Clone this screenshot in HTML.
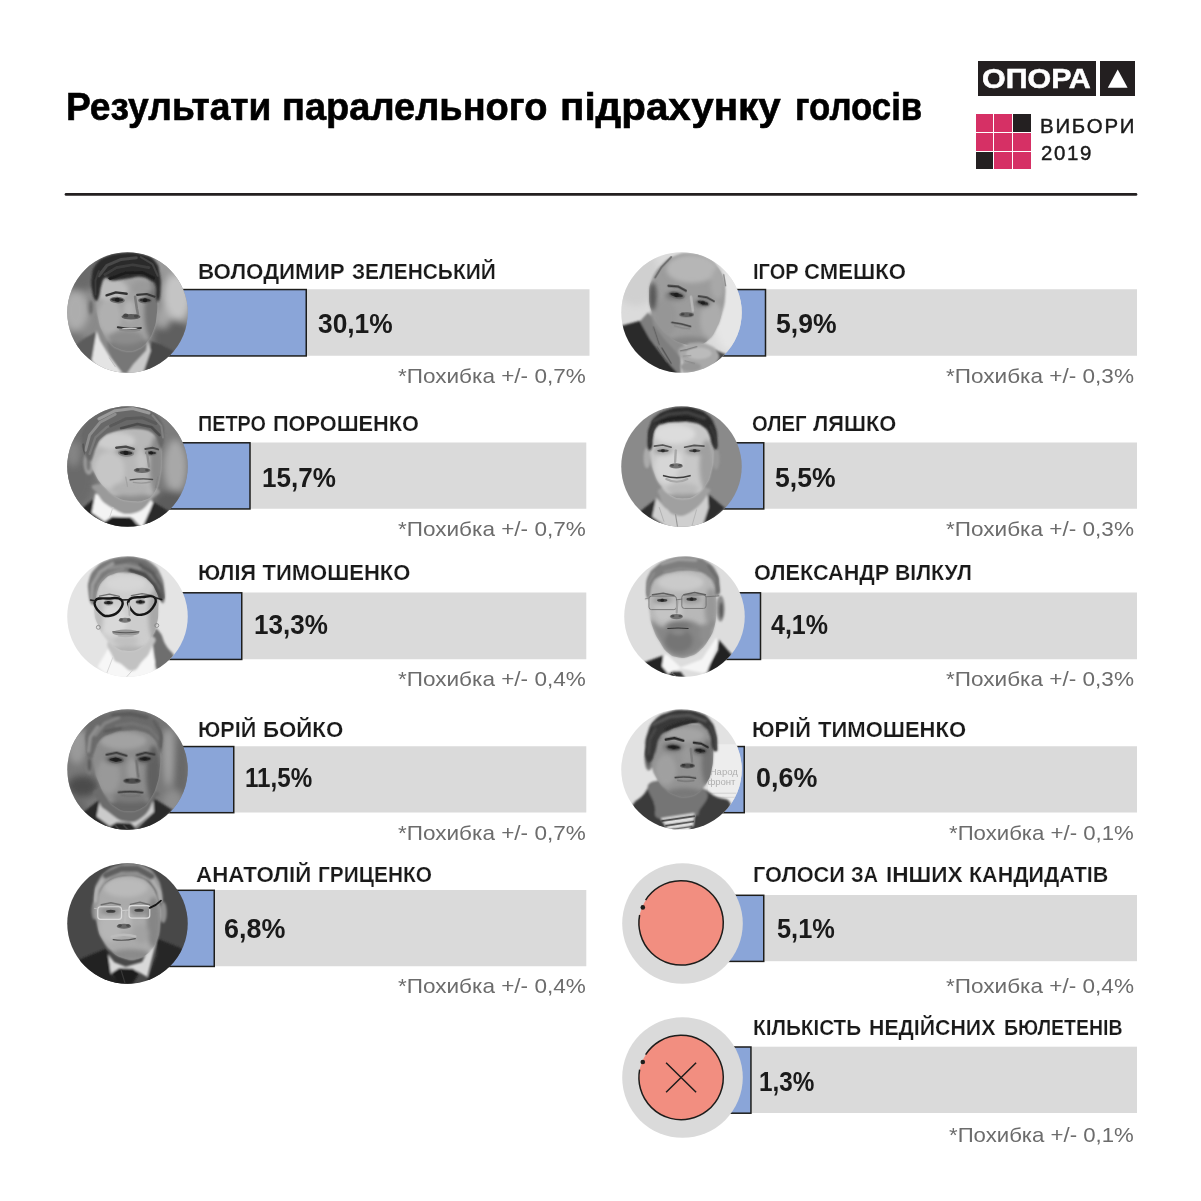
<!DOCTYPE html>
<html lang="uk">
<head>
<meta charset="utf-8">
<title>Результати паралельного підрахунку голосів</title>
<style>
html,body{margin:0;padding:0;background:#fff;}
body{width:1201px;height:1201px;position:relative;overflow:hidden;font-family:"Liberation Sans", sans-serif;}
.t{position:absolute;white-space:nowrap;line-height:1;margin:0;padding:0;transform-origin:0 0;}
.bar{position:absolute;background:#dadada;}
.fill{position:absolute;background:#8aa5d8;border:1.5px solid #1d1d1b;box-sizing:border-box;}
.pic{position:absolute;width:121px;height:121px;}
.pic svg{display:block;width:121px;height:121px;}
</style>
</head>
<body>
<div style="position:absolute;left:978px;top:61px;width:118px;height:35px;background:#231f20;"></div>
<div style="position:absolute;left:1100px;top:61px;width:35px;height:35px;background:#231f20;"></div>
<svg style="position:absolute;left:1100px;top:61px;" width="35" height="35" viewBox="0 0 35 35"><polygon points="17.7,8.6 27.6,26.8 7.8,26.8" fill="#fff"/></svg>
<div style="position:absolute;left:975.6px;top:114.0px;width:17.8px;height:17.8px;background:#d63065;"></div>
<div style="position:absolute;left:994.4px;top:114.0px;width:17.8px;height:17.8px;background:#d63065;"></div>
<div style="position:absolute;left:1013.2px;top:114.0px;width:17.8px;height:17.8px;background:#242021;"></div>
<div style="position:absolute;left:975.6px;top:132.8px;width:17.8px;height:17.8px;background:#d63065;"></div>
<div style="position:absolute;left:994.4px;top:132.8px;width:17.8px;height:17.8px;background:#d63065;"></div>
<div style="position:absolute;left:1013.2px;top:132.8px;width:17.8px;height:17.8px;background:#d63065;"></div>
<div style="position:absolute;left:975.6px;top:151.6px;width:17.8px;height:17.8px;background:#242021;"></div>
<div style="position:absolute;left:994.4px;top:151.6px;width:17.8px;height:17.8px;background:#d63065;"></div>
<div style="position:absolute;left:1013.2px;top:151.6px;width:17.8px;height:17.8px;background:#d63065;"></div>
<svg style="position:absolute;left:0;top:0;" width="1201" height="1201" viewBox="0 0 1201 1201">
<line x1="66" y1="194.4" x2="1136" y2="194.4" stroke="#231f20" stroke-width="2.7" stroke-linecap="round"/>
<rect x="127.00" y="289.25" width="462.50" height="66.50" fill="#dadada"/>
<rect x="127.00" y="289.55" width="179.25" height="66.40" fill="#8aa5d8" stroke="#1d1d1b" stroke-width="1.5"/>
<rect x="127.00" y="442.50" width="459.30" height="66.25" fill="#dadada"/>
<rect x="127.00" y="442.80" width="123.00" height="66.15" fill="#8aa5d8" stroke="#1d1d1b" stroke-width="1.5"/>
<rect x="127.00" y="592.50" width="459.30" height="66.75" fill="#dadada"/>
<rect x="127.00" y="592.80" width="114.75" height="66.65" fill="#8aa5d8" stroke="#1d1d1b" stroke-width="1.5"/>
<rect x="127.00" y="746.25" width="459.30" height="66.25" fill="#dadada"/>
<rect x="127.00" y="746.55" width="106.75" height="66.15" fill="#8aa5d8" stroke="#1d1d1b" stroke-width="1.5"/>
<rect x="127.00" y="890.00" width="459.30" height="76.25" fill="#dadada"/>
<rect x="127.00" y="890.30" width="87.25" height="76.15" fill="#8aa5d8" stroke="#1d1d1b" stroke-width="1.5"/>
<rect x="681.70" y="289.25" width="455.30" height="66.50" fill="#dadada"/>
<rect x="681.70" y="289.55" width="83.80" height="66.40" fill="#8aa5d8" stroke="#1d1d1b" stroke-width="1.5"/>
<rect x="681.70" y="442.50" width="455.30" height="66.25" fill="#dadada"/>
<rect x="681.70" y="442.80" width="82.05" height="66.15" fill="#8aa5d8" stroke="#1d1d1b" stroke-width="1.5"/>
<rect x="684.50" y="592.50" width="452.50" height="66.75" fill="#dadada"/>
<rect x="684.50" y="592.80" width="76.00" height="66.65" fill="#8aa5d8" stroke="#1d1d1b" stroke-width="1.5"/>
<rect x="681.80" y="746.25" width="455.20" height="66.25" fill="#dadada"/>
<rect x="681.80" y="746.55" width="62.45" height="66.15" fill="#8aa5d8" stroke="#1d1d1b" stroke-width="1.5"/>
<rect x="682.20" y="895.00" width="454.80" height="66.20" fill="#dadada"/>
<rect x="682.20" y="895.30" width="81.55" height="66.10" fill="#8aa5d8" stroke="#1d1d1b" stroke-width="1.5"/>
<rect x="682.20" y="1046.70" width="454.80" height="66.30" fill="#dadada"/>
<rect x="682.20" y="1047.00" width="68.75" height="66.20" fill="#8aa5d8" stroke="#1d1d1b" stroke-width="1.5"/>
</svg>
<div class="pic" style="left:66.50px;top:251.70px;"><svg viewBox="56 56 1038 1038"><defs><clipPath id="p1_c"><circle cx="575" cy="575" r="517"/></clipPath><filter id="p1_g" x="-40%" y="-40%" width="180%" height="180%"><feGaussianBlur stdDeviation="30"/></filter><filter id="p1_f" x="-40%" y="-40%" width="180%" height="180%"><feGaussianBlur stdDeviation="10"/></filter><filter id="p1_h" x="-40%" y="-40%" width="180%" height="180%"><feGaussianBlur stdDeviation="4.5"/></filter><filter id="p1_m" x="-40%" y="-40%" width="180%" height="180%"><feGaussianBlur stdDeviation="18"/></filter><clipPath id="p1_face"><path d="M318,300 C351.8,251.2 379.5,290.0 440,285 C500.5,280.0 495.0,283.8 560,280 C625.0,276.2 637.0,258.7 700,270 C763.0,281.3 779.0,275.0 812,325 C845.0,375.0 828.7,401.2 832,470 C835.3,538.8 833.0,537.5 825,600 C817.0,662.5 821.3,662.5 800,720 C778.7,777.5 775.0,787.5 740,830 C705.0,872.5 698.8,871.2 660,890 C621.2,908.8 625.0,906.3 585,905 C545.0,903.7 538.8,901.3 500,885 C461.2,868.7 465.0,876.3 430,840 C395.0,803.7 387.0,795.0 360,740 C333.0,685.0 335.8,685.0 322,620 C308.2,555.0 306.0,560.0 305,480 C304.0,400.0 284.2,348.8 318,300Z"/></clipPath><clipPath id="p1_hair"><path d="M300,470 C285.0,455.0 278.0,430.0 270,380 C262.0,330.0 260.5,322.5 268,270 C275.5,217.5 269.5,213.8 300,170 C330.5,126.2 330.0,122.0 390,95 C450.0,68.0 462.5,67.0 540,62 C617.5,57.0 632.0,56.7 700,75 C768.0,93.3 774.0,91.2 812,135 C850.0,178.8 840.5,188.7 852,250 C863.5,311.3 859.8,325.0 858,380 C856.2,435.0 854.0,451.2 845,470 C836.0,488.8 829.5,486.3 822,455 C814.5,423.7 828.0,383.8 815,345 C802.0,306.2 801.3,319.3 770,300 C738.7,280.7 732.5,273.0 690,268 C647.5,263.0 642.5,274.0 600,280 C557.5,286.0 560.0,287.0 520,292 C480.0,297.0 473.8,304.3 440,300 C406.2,295.7 407.5,263.7 385,275 C362.5,286.3 363.8,303.7 350,345 C336.2,386.3 342.5,408.7 330,440 C317.5,471.3 315.0,485.0 300,470Z"/></clipPath></defs><g clip-path="url(#p1_c)"><rect x="0" y="0" width="1200" height="1200" fill="#8a8a8a" /><g filter="url(#p1_g)"><ellipse cx="130" cy="560" rx="110" ry="170" fill="#adadad" /><ellipse cx="1000" cy="430" rx="120" ry="230" fill="#c4c4c4" /><ellipse cx="940" cy="150" rx="150" ry="110" fill="#9a9a9a" /><ellipse cx="170" cy="220" rx="190" ry="170" fill="#6a6a6a" /><ellipse cx="960" cy="800" rx="170" ry="170" fill="#5e5e5e" /><ellipse cx="110" cy="860" rx="120" ry="120" fill="#747474" /><ellipse cx="880" cy="620" rx="60" ry="90" fill="#a5a5a5" /></g><g filter="url(#p1_f)"><polygon points="110,870 200,800 315,735 285,1000 360,1115 40,1115" fill="#5c5c5c" /><polygon points="742,808 860,850 970,905 920,1115 690,1115 765,900" fill="#4a4a4a" /><path d="M430,780 C497.5,720.0 663.7,735.0 740,780 C816.3,825.0 760.0,890.0 735,960 C710.0,1030.0 683.8,1026.2 640,1060 C596.2,1093.8 602.5,1105.0 560,1095 C517.5,1085.0 502.5,1098.8 470,1020 C437.5,941.2 362.5,840.0 430,780Z" fill="#777" /><polygon points="310,730 268,985 300,1030 410,1105 530,1095 430,965 340,815" fill="#e4e4e4" /><polygon points="748,812 735,900 625,1020 565,1105 705,1105 775,900" fill="#c9c9c9" /><ellipse cx="266" cy="520" rx="38" ry="98" fill="#8b8b8b" /><ellipse cx="262" cy="530" rx="16" ry="60" fill="#6a6a6a" /><path d="M318,300 C351.8,251.2 379.5,290.0 440,285 C500.5,280.0 495.0,283.8 560,280 C625.0,276.2 637.0,258.7 700,270 C763.0,281.3 779.0,275.0 812,325 C845.0,375.0 828.7,401.2 832,470 C835.3,538.8 833.0,537.5 825,600 C817.0,662.5 821.3,662.5 800,720 C778.7,777.5 775.0,787.5 740,830 C705.0,872.5 698.8,871.2 660,890 C621.2,908.8 625.0,906.3 585,905 C545.0,903.7 538.8,901.3 500,885 C461.2,868.7 465.0,876.3 430,840 C395.0,803.7 387.0,795.0 360,740 C333.0,685.0 335.8,685.0 322,620 C308.2,555.0 306.0,560.0 305,480 C304.0,400.0 284.2,348.8 318,300Z" fill="#a2a2a2" /></g><g clip-path="url(#p1_face)"><g filter="url(#p1_m)"><ellipse cx="430" cy="380" rx="150" ry="95" fill="#bcbcbc" /><ellipse cx="420" cy="610" rx="100" ry="150" fill="#b0b0b0" /><ellipse cx="790" cy="560" rx="70" ry="260" fill="#747474" /><ellipse cx="600" cy="860" rx="190" ry="70" fill="#7c7c7c" /><ellipse cx="560" cy="790" rx="150" ry="60" fill="#8c8c8c" /><ellipse cx="700" cy="360" rx="90" ry="60" fill="#9a9a9a" /><ellipse cx="590" cy="560" rx="50" ry="90" fill="#b4b4b4" /></g></g><g filter="url(#p1_f)"><path d="M300,470 C285.0,455.0 278.0,430.0 270,380 C262.0,330.0 260.5,322.5 268,270 C275.5,217.5 269.5,213.8 300,170 C330.5,126.2 330.0,122.0 390,95 C450.0,68.0 462.5,67.0 540,62 C617.5,57.0 632.0,56.7 700,75 C768.0,93.3 774.0,91.2 812,135 C850.0,178.8 840.5,188.7 852,250 C863.5,311.3 859.8,325.0 858,380 C856.2,435.0 854.0,451.2 845,470 C836.0,488.8 829.5,486.3 822,455 C814.5,423.7 828.0,383.8 815,345 C802.0,306.2 801.3,319.3 770,300 C738.7,280.7 732.5,273.0 690,268 C647.5,263.0 642.5,274.0 600,280 C557.5,286.0 560.0,287.0 520,292 C480.0,297.0 473.8,304.3 440,300 C406.2,295.7 407.5,263.7 385,275 C362.5,286.3 363.8,303.7 350,345 C336.2,386.3 342.5,408.7 330,440 C317.5,471.3 315.0,485.0 300,470Z" fill="#2b2b2b" /></g><g clip-path="url(#p1_hair)"><g filter="url(#p1_h)"><polyline points="330,260 400,170 520,120 650,105" fill="none" stroke="#484848" stroke-width="26" stroke-linecap="round" stroke-linejoin="round" /><polyline points="380,250 480,190 620,165 760,190" fill="none" stroke="#3e3e3e" stroke-width="22" stroke-linecap="round" stroke-linejoin="round" /><polyline points="420,285 560,235 700,230 800,280" fill="none" stroke="#1e1e1e" stroke-width="24" stroke-linecap="round" stroke-linejoin="round" /><polyline points="300,420 300,300 330,220" fill="none" stroke="#3a3a3a" stroke-width="18" stroke-linecap="round" stroke-linejoin="round" /><polyline points="690,100 790,160 835,260" fill="none" stroke="#444" stroke-width="18" stroke-linecap="round" stroke-linejoin="round" /></g></g><g filter="url(#p1_h)"><ellipse cx="487" cy="468" rx="65" ry="28.6" fill="#6a6a6a" transform="rotate(3 487 468)" /><ellipse cx="487" cy="466" rx="52" ry="15.6" fill="#2e2e2e" transform="rotate(3 487 466)" /><ellipse cx="487" cy="466" rx="19.76" ry="17.68" fill="#1c1c1c" transform="rotate(3 487 466)" /><ellipse cx="726" cy="472" rx="60" ry="26.4" fill="#6a6a6a" transform="rotate(2 726 472)" /><ellipse cx="726" cy="470" rx="48" ry="14.4" fill="#2e2e2e" transform="rotate(2 726 470)" /><ellipse cx="726" cy="470" rx="18.24" ry="16.32" fill="#1c1c1c" transform="rotate(2 726 470)" /><polyline points="395,428 475,402 568,414" fill="none" stroke="#333" stroke-width="20" stroke-linecap="round" stroke-linejoin="round" /><polyline points="658,424 740,416 808,440" fill="none" stroke="#383838" stroke-width="18" stroke-linecap="round" stroke-linejoin="round" /><polyline points="640,440 655,540 665,590" fill="none" stroke="#7c7c7c" stroke-width="22" stroke-linecap="round" stroke-linejoin="round" /><ellipse cx="605" cy="612" rx="82" ry="24" fill="#5c5c5c" /><ellipse cx="560" cy="600" rx="22" ry="16" fill="#444" /><ellipse cx="650" cy="606" rx="20" ry="14" fill="#484848" /><path d="M492,702 Q590,722 690,708" fill="none" stroke="#333" stroke-width="17" stroke-linecap="round" stroke-linejoin="round" /><path d="M510,722 Q595,745 680,724" fill="none" stroke="#8a8a8a" stroke-width="14" stroke-linecap="round" stroke-linejoin="round" /><ellipse cx="592" cy="712" rx="70" ry="7" fill="#c8c8c8" /><polyline points="420,965 470,1040" fill="none" stroke="#bbb" stroke-width="8" stroke-linecap="round" stroke-linejoin="round" /></g></g></svg></div>
<div class="pic" style="left:66.50px;top:405.50px;"><svg viewBox="56 90 1038 1038"><defs><clipPath id="p2_c"><circle cx="575" cy="609" r="517"/></clipPath><filter id="p2_g" x="-40%" y="-40%" width="180%" height="180%"><feGaussianBlur stdDeviation="30"/></filter><filter id="p2_f" x="-40%" y="-40%" width="180%" height="180%"><feGaussianBlur stdDeviation="10"/></filter><filter id="p2_h" x="-40%" y="-40%" width="180%" height="180%"><feGaussianBlur stdDeviation="4.5"/></filter><filter id="p2_m" x="-40%" y="-40%" width="180%" height="180%"><feGaussianBlur stdDeviation="18"/></filter><clipPath id="p2_face"><path d="M300,440 C328.8,385.0 330.0,375.0 380,340 C430.0,305.0 435.0,314.3 500,300 C565.0,285.7 567.5,278.0 640,283 C712.5,288.0 737.5,285.7 790,320 C842.5,354.3 832.0,360.0 850,420 C868.0,480.0 862.0,490.0 862,560 C862.0,630.0 862.5,635.0 850,700 C837.5,765.0 842.0,771.2 812,820 C782.0,868.8 783.0,873.7 730,895 C677.0,916.3 662.5,911.3 600,905 C537.5,898.7 535.0,898.8 480,870 C425.0,841.2 425.0,837.5 380,790 C335.0,742.5 328.8,737.5 300,680 C271.2,622.5 265.0,620.0 265,560 C265.0,500.0 271.2,495.0 300,440Z"/></clipPath><clipPath id="p2_hair"><path d="M250,560 C231.2,555.0 221.3,540.0 205,500 C188.7,460.0 186.8,452.5 185,400 C183.2,347.5 171.7,346.3 198,290 C224.3,233.7 229.5,221.3 290,175 C350.5,128.7 362.5,126.8 440,105 C517.5,83.2 520.0,83.0 600,88 C680.0,93.0 695.0,93.2 760,125 C825.0,156.8 827.5,163.7 860,215 C892.5,266.3 888.0,271.2 890,330 C892.0,388.8 880.0,427.5 868,450 C856.0,472.5 859.0,451.3 842,420 C825.0,388.7 835.5,358.8 800,325 C764.5,291.2 760.0,294.3 700,285 C640.0,275.7 625.0,280.5 560,288 C495.0,295.5 490.0,297.0 440,315 C390.0,333.0 393.8,328.7 360,360 C326.2,391.3 325.0,400.0 305,440 C285.0,480.0 293.8,490.0 280,520 C266.2,550.0 268.8,565.0 250,560Z"/></clipPath></defs><g clip-path="url(#p2_c)"><rect x="0" y="0" width="1200" height="1200" fill="#787878" /><g filter="url(#p2_g)"><ellipse cx="985" cy="610" rx="100" ry="230" fill="#a8a8a8" /><ellipse cx="140" cy="700" rx="150" ry="260" fill="#6a6a6a" /><ellipse cx="950" cy="960" rx="160" ry="150" fill="#5c5c5c" /><ellipse cx="180" cy="280" rx="200" ry="150" fill="#6e6e6e" /><ellipse cx="930" cy="260" rx="150" ry="130" fill="#7c7c7c" /><ellipse cx="110" cy="500" rx="60" ry="110" fill="#858585" /></g><g filter="url(#p2_f)"><polygon points="190,965 295,880 282,1010 400,1100 340,1150 170,1090" fill="#262626" /><polygon points="790,910 940,1000 885,1085 700,1150 640,1125 770,990" fill="#292929" /><polygon points="298,840 268,1005 400,1095 460,1052 620,1052 700,1140 795,920 775,890 620,1000 450,960 335,855" fill="#f3f3f3" /><path d="M330,760 C449.5,745.0 688.7,755.0 800,790 C911.3,825.0 820.0,844.5 775,900 C730.0,955.5 703.8,996.5 620,1012 C536.2,1027.5 514.5,1002.5 440,962 C365.5,921.5 349.5,900.5 322,850 C294.5,799.5 210.5,775.0 330,760Z" fill="#9a9a9a" /><polygon points="372,1090 440,1040 602,1044 665,1135 400,1140" fill="#1c1c1c" /><ellipse cx="243" cy="575" rx="46" ry="105" fill="#9d9d9d" /><ellipse cx="240" cy="585" rx="18" ry="60" fill="#777" /><path d="M300,440 C328.8,385.0 330.0,375.0 380,340 C430.0,305.0 435.0,314.3 500,300 C565.0,285.7 567.5,278.0 640,283 C712.5,288.0 737.5,285.7 790,320 C842.5,354.3 832.0,360.0 850,420 C868.0,480.0 862.0,490.0 862,560 C862.0,630.0 862.5,635.0 850,700 C837.5,765.0 842.0,771.2 812,820 C782.0,868.8 783.0,873.7 730,895 C677.0,916.3 662.5,911.3 600,905 C537.5,898.7 535.0,898.8 480,870 C425.0,841.2 425.0,837.5 380,790 C335.0,742.5 328.8,737.5 300,680 C271.2,622.5 265.0,620.0 265,560 C265.0,500.0 271.2,495.0 300,440Z" fill="#b8b8b8" /></g><g clip-path="url(#p2_face)"><g filter="url(#p2_m)"><ellipse cx="470" cy="390" rx="170" ry="75" fill="#cdcdcd" /><ellipse cx="420" cy="640" rx="130" ry="160" fill="#c6c6c6" /><ellipse cx="825" cy="600" rx="60" ry="260" fill="#8a8a8a" /><ellipse cx="640" cy="895" rx="200" ry="50" fill="#8e8e8e" /><ellipse cx="600" cy="800" rx="160" ry="60" fill="#b0b0b0" /><ellipse cx="700" cy="560" rx="50" ry="90" fill="#c2c2c2" /><ellipse cx="560" cy="480" rx="90" ry="40" fill="#9a9a9a" /><ellipse cx="780" cy="480" rx="60" ry="36" fill="#8a8a8a" /></g></g><g filter="url(#p2_f)"><path d="M250,560 C231.2,555.0 221.3,540.0 205,500 C188.7,460.0 186.8,452.5 185,400 C183.2,347.5 171.7,346.3 198,290 C224.3,233.7 229.5,221.3 290,175 C350.5,128.7 362.5,126.8 440,105 C517.5,83.2 520.0,83.0 600,88 C680.0,93.0 695.0,93.2 760,125 C825.0,156.8 827.5,163.7 860,215 C892.5,266.3 888.0,271.2 890,330 C892.0,388.8 880.0,427.5 868,450 C856.0,472.5 859.0,451.3 842,420 C825.0,388.7 835.5,358.8 800,325 C764.5,291.2 760.0,294.3 700,285 C640.0,275.7 625.0,280.5 560,288 C495.0,295.5 490.0,297.0 440,315 C390.0,333.0 393.8,328.7 360,360 C326.2,391.3 325.0,400.0 305,440 C285.0,480.0 293.8,490.0 280,520 C266.2,550.0 268.8,565.0 250,560Z" fill="#686868" /></g><g clip-path="url(#p2_hair)"><g filter="url(#p2_h)"><polyline points="215,470 250,340 340,230 470,160" fill="none" stroke="#8e8e8e" stroke-width="24" stroke-linecap="round" stroke-linejoin="round" /><polyline points="250,500 300,360 400,270 520,215" fill="none" stroke="#7a7a7a" stroke-width="20" stroke-linecap="round" stroke-linejoin="round" /><polyline points="330,200 470,130 620,112 760,150" fill="none" stroke="#9a9a9a" stroke-width="26" stroke-linecap="round" stroke-linejoin="round" /><polyline points="430,260 560,200 700,190 820,240" fill="none" stroke="#5a5a5a" stroke-width="26" stroke-linecap="round" stroke-linejoin="round" /><polyline points="520,280 660,245 780,270 850,340" fill="none" stroke="#4c4c4c" stroke-width="22" stroke-linecap="round" stroke-linejoin="round" /><polyline points="200,520 195,420" fill="none" stroke="#555" stroke-width="18" stroke-linecap="round" stroke-linejoin="round" /><polyline points="790,170 865,260 880,360" fill="none" stroke="#808080" stroke-width="18" stroke-linecap="round" stroke-linejoin="round" /></g></g><g filter="url(#p2_h)"><ellipse cx="562" cy="494" rx="70" ry="30.8" fill="#858585" transform="rotate(4 562 494)" /><ellipse cx="562" cy="492" rx="56" ry="16.8" fill="#303030" transform="rotate(4 562 492)" /><ellipse cx="562" cy="492" rx="21.28" ry="19.04" fill="#1c1c1c" transform="rotate(4 562 492)" /><ellipse cx="778" cy="494" rx="52.5" ry="23.1" fill="#7c7c7c" transform="rotate(2 778 494)" /><ellipse cx="778" cy="492" rx="42" ry="12.6" fill="#303030" transform="rotate(2 778 492)" /><ellipse cx="778" cy="492" rx="15.96" ry="14.28" fill="#1c1c1c" transform="rotate(2 778 492)" /><polyline points="478,448 560,438 628,458" fill="none" stroke="#484848" stroke-width="20" stroke-linecap="round" stroke-linejoin="round" /><polyline points="728,458 790,448 838,462" fill="none" stroke="#4c4c4c" stroke-width="17" stroke-linecap="round" stroke-linejoin="round" /><polyline points="742,480 752,560 760,610" fill="none" stroke="#909090" stroke-width="20" stroke-linecap="round" stroke-linejoin="round" /><ellipse cx="700" cy="642" rx="72" ry="22" fill="#6c6c6c" /><ellipse cx="660" cy="636" rx="18" ry="13" fill="#4a4a4a" /><ellipse cx="742" cy="640" rx="16" ry="12" fill="#505050" /><path d="M598,724 Q700,708 790,720" fill="none" stroke="#4a4a4a" stroke-width="12" stroke-linecap="round" stroke-linejoin="round" /><path d="M625,745 Q700,760 775,742" fill="none" stroke="#989898" stroke-width="12" stroke-linecap="round" stroke-linejoin="round" /><polyline points="560,700 575,780" fill="none" stroke="#a4a4a4" stroke-width="12" stroke-linecap="round" stroke-linejoin="round" /><polyline points="835,700 815,790" fill="none" stroke="#858585" stroke-width="12" stroke-linecap="round" stroke-linejoin="round" /><polyline points="450,960 420,1050" fill="none" stroke="#d0d0d0" stroke-width="8" stroke-linecap="round" stroke-linejoin="round" /></g></g></svg></div>
<div class="pic" style="left:66.50px;top:556.00px;"><svg viewBox="56 94 1038 1038"><defs><clipPath id="p3_c"><circle cx="575" cy="613" r="517"/></clipPath><filter id="p3_g" x="-40%" y="-40%" width="180%" height="180%"><feGaussianBlur stdDeviation="30"/></filter><filter id="p3_f" x="-40%" y="-40%" width="180%" height="180%"><feGaussianBlur stdDeviation="10"/></filter><filter id="p3_h" x="-40%" y="-40%" width="180%" height="180%"><feGaussianBlur stdDeviation="4.5"/></filter><filter id="p3_m" x="-40%" y="-40%" width="180%" height="180%"><feGaussianBlur stdDeviation="18"/></filter><clipPath id="p3_face"><path d="M292,480 C298.3,430.0 288.0,428.8 315,380 C342.0,331.2 348.7,318.8 400,285 C451.3,251.2 460.0,255.0 520,245 C580.0,235.0 580.0,228.7 640,245 C700.0,261.3 712.5,263.7 760,310 C807.5,356.3 810.0,367.5 830,430 C850.0,492.5 841.3,497.5 840,560 C838.7,622.5 840.0,622.5 825,680 C810.0,737.5 813.8,740.0 780,790 C746.2,840.0 740.0,850.5 690,880 C640.0,909.5 635.0,909.3 580,908 C525.0,906.7 520.0,904.5 470,875 C420.0,845.5 417.5,838.8 380,790 C342.5,741.2 342.5,732.5 320,680 C297.5,627.5 297.0,630.0 290,580 C283.0,530.0 285.7,530.0 292,480Z"/></clipPath><clipPath id="p3_hair"><path d="M262,500 C248.2,477.5 244.3,450.0 240,400 C235.7,350.0 230.0,350.0 245,300 C260.0,250.0 261.2,242.5 300,200 C338.8,157.5 340.0,155.5 400,130 C460.0,104.5 470.0,103.5 540,98 C610.0,92.5 617.5,92.5 680,108 C742.5,123.5 745.0,123.2 790,160 C835.0,196.8 834.5,200.0 860,255 C885.5,310.0 885.0,321.2 892,380 C899.0,438.8 898.5,467.5 888,490 C877.5,512.5 867.0,492.5 850,470 C833.0,447.5 840.0,437.5 820,400 C800.0,362.5 805.0,355.0 770,320 C735.0,285.0 732.5,280.5 680,260 C627.5,239.5 617.5,240.5 560,238 C502.5,235.5 497.5,234.5 450,250 C402.5,265.5 403.0,266.2 370,300 C337.0,333.8 336.8,337.5 318,385 C299.2,432.5 309.0,461.2 295,490 C281.0,518.8 275.8,522.5 262,500Z"/></clipPath></defs><g clip-path="url(#p3_c)"><rect x="0" y="0" width="1200" height="1200" fill="#e4e4e4" /><g filter="url(#p3_f)"><path d="M785,725 C797.5,686.2 820.0,711.2 850,745 C880.0,778.8 873.7,805.0 905,860 C936.3,915.0 976.3,922.5 975,965 C973.7,1007.5 936.3,1002.5 900,1030 C863.7,1057.5 855.0,1107.5 830,1075 C805.0,1042.5 811.3,987.5 800,900 C788.7,812.5 772.5,763.8 785,725Z" fill="#6e6e6e" /><polygon points="420,870 318,1045 440,1150 790,1150 812,1000 772,880 620,1072 450,962" fill="#f7f7f7" /><path d="M440,800 C521.3,754.5 692.0,755.0 775,780 C858.0,805.0 790.8,845.0 772,900 C753.2,955.0 738.0,955.5 700,1000 C662.0,1044.5 665.0,1073.0 620,1078 C575.0,1083.0 562.5,1049.0 520,1020 C477.5,991.0 470.0,1017.0 450,962 C430.0,907.0 358.7,845.5 440,800Z" fill="#c2c2c2" /><path d="M292,480 C298.3,430.0 288.0,428.8 315,380 C342.0,331.2 348.7,318.8 400,285 C451.3,251.2 460.0,255.0 520,245 C580.0,235.0 580.0,228.7 640,245 C700.0,261.3 712.5,263.7 760,310 C807.5,356.3 810.0,367.5 830,430 C850.0,492.5 841.3,497.5 840,560 C838.7,622.5 840.0,622.5 825,680 C810.0,737.5 813.8,740.0 780,790 C746.2,840.0 740.0,850.5 690,880 C640.0,909.5 635.0,909.3 580,908 C525.0,906.7 520.0,904.5 470,875 C420.0,845.5 417.5,838.8 380,790 C342.5,741.2 342.5,732.5 320,680 C297.5,627.5 297.0,630.0 290,580 C283.0,530.0 285.7,530.0 292,480Z" fill="#cdcdcd" /></g><g clip-path="url(#p3_face)"><g filter="url(#p3_m)"><ellipse cx="810" cy="600" rx="55" ry="220" fill="#a8a8a8" /><ellipse cx="450" cy="650" rx="120" ry="130" fill="#d9d9d9" /><ellipse cx="560" cy="330" rx="170" ry="70" fill="#d6d6d6" /><ellipse cx="590" cy="900" rx="150" ry="35" fill="#b2b2b2" /><ellipse cx="330" cy="600" rx="40" ry="160" fill="#bcbcbc" /><ellipse cx="560" cy="820" rx="110" ry="40" fill="#c0c0c0" /></g></g><g filter="url(#p3_f)"><path d="M262,500 C248.2,477.5 244.3,450.0 240,400 C235.7,350.0 230.0,350.0 245,300 C260.0,250.0 261.2,242.5 300,200 C338.8,157.5 340.0,155.5 400,130 C460.0,104.5 470.0,103.5 540,98 C610.0,92.5 617.5,92.5 680,108 C742.5,123.5 745.0,123.2 790,160 C835.0,196.8 834.5,200.0 860,255 C885.5,310.0 885.0,321.2 892,380 C899.0,438.8 898.5,467.5 888,490 C877.5,512.5 867.0,492.5 850,470 C833.0,447.5 840.0,437.5 820,400 C800.0,362.5 805.0,355.0 770,320 C735.0,285.0 732.5,280.5 680,260 C627.5,239.5 617.5,240.5 560,238 C502.5,235.5 497.5,234.5 450,250 C402.5,265.5 403.0,266.2 370,300 C337.0,333.8 336.8,337.5 318,385 C299.2,432.5 309.0,461.2 295,490 C281.0,518.8 275.8,522.5 262,500Z" fill="#7a7a7a" /></g><g clip-path="url(#p3_hair)"><g filter="url(#p3_f)"><polyline points="265,470 275,340 340,230 450,160" fill="none" stroke="#9c9c9c" stroke-width="30" stroke-linecap="round" stroke-linejoin="round" /><polyline points="300,460 330,340 420,250 540,205" fill="none" stroke="#8c8c8c" stroke-width="26" stroke-linecap="round" stroke-linejoin="round" /><polyline points="470,150 600,130 720,160 810,240" fill="none" stroke="#6a6a6a" stroke-width="30" stroke-linecap="round" stroke-linejoin="round" /><polyline points="600,215 720,255 810,350 860,460" fill="none" stroke="#4a4a4a" stroke-width="36" stroke-linecap="round" stroke-linejoin="round" /><polyline points="680,170 790,240 860,350 880,450" fill="none" stroke="#585858" stroke-width="26" stroke-linecap="round" stroke-linejoin="round" /><polyline points="420,200 560,175 680,200" fill="none" stroke="#909090" stroke-width="22" stroke-linecap="round" stroke-linejoin="round" /></g></g><g filter="url(#p3_h)"><ellipse cx="412" cy="494" rx="44" ry="26" fill="#a8a8a8" /><ellipse cx="686" cy="488" rx="44" ry="26" fill="#a4a4a4" /><ellipse cx="412" cy="494" rx="38" ry="14" fill="#303030" /><ellipse cx="686" cy="488" rx="38" ry="14" fill="#303030" /><ellipse cx="412" cy="494" rx="15" ry="14" fill="#1a1a1a" /><ellipse cx="686" cy="488" rx="15" ry="14" fill="#1a1a1a" /><polyline points="335,438 420,422 505,440" fill="none" stroke="#6e6e6e" stroke-width="11" stroke-linecap="round" stroke-linejoin="round" /><polyline points="608,434 700,416 785,432" fill="none" stroke="#6e6e6e" stroke-width="11" stroke-linecap="round" stroke-linejoin="round" /><path d="M298,478 C316.0,448.0 354.0,460.0 410,458 C466.0,456.0 497.0,445.7 522,470 C547.0,494.3 534.3,521.0 510,555 C485.7,589.0 468.0,600.2 425,606 C382.0,611.8 369.8,610.0 338,578 C306.2,546.0 280.0,508.0 298,478Z" fill="none" stroke="#161616" stroke-width="21" stroke-linecap="round" stroke-linejoin="round" /><path d="M590,470 C612.5,441.5 645.5,451.0 700,446 C754.5,441.0 786.0,426.0 808,450 C830.0,474.0 816.3,505.0 788,542 C759.7,579.0 739.5,593.5 695,598 C650.5,602.5 636.3,592.0 610,560 C583.7,528.0 567.5,498.5 590,470Z" fill="none" stroke="#161616" stroke-width="21" stroke-linecap="round" stroke-linejoin="round" /><polyline points="524,472 590,470" fill="none" stroke="#1c1c1c" stroke-width="13" stroke-linecap="round" stroke-linejoin="round" /><polyline points="296,478 258,472" fill="none" stroke="#222" stroke-width="13" stroke-linecap="round" stroke-linejoin="round" /><polyline points="808,450 868,468" fill="none" stroke="#222" stroke-width="13" stroke-linecap="round" stroke-linejoin="round" /><polyline points="588,500 592,600" fill="none" stroke="#b4b4b4" stroke-width="16" stroke-linecap="round" stroke-linejoin="round" /><ellipse cx="553" cy="645" rx="52" ry="22" fill="#787878" /><ellipse cx="520" cy="640" rx="15" ry="11" fill="#555" /><ellipse cx="586" cy="640" rx="15" ry="11" fill="#555" /><ellipse cx="560" cy="752" rx="114" ry="28" fill="#989898" /><path d="M448,744 Q560,762 674,744" fill="none" stroke="#555" stroke-width="9" stroke-linecap="round" stroke-linejoin="round" /><ellipse cx="560" cy="780" rx="70" ry="10" fill="#b4b4b4" /><circle cx="325" cy="706" r="17" fill="none" stroke="#808080" stroke-width="7"/><circle cx="826" cy="690" r="17" fill="none" stroke="#808080" stroke-width="7"/><polyline points="620,1072 555,1145" fill="none" stroke="#cfcfcf" stroke-width="8" stroke-linecap="round" stroke-linejoin="round" /><polyline points="450,962 395,1105" fill="none" stroke="#d4d4d4" stroke-width="8" stroke-linecap="round" stroke-linejoin="round" /></g></g></svg></div>
<div class="pic" style="left:66.50px;top:709.10px;"><svg viewBox="56 77 1038 1038"><defs><clipPath id="p4_c"><circle cx="575" cy="596" r="517"/></clipPath><filter id="p4_g" x="-40%" y="-40%" width="180%" height="180%"><feGaussianBlur stdDeviation="30"/></filter><filter id="p4_f" x="-40%" y="-40%" width="180%" height="180%"><feGaussianBlur stdDeviation="10"/></filter><filter id="p4_h" x="-40%" y="-40%" width="180%" height="180%"><feGaussianBlur stdDeviation="4.5"/></filter><filter id="p4_m" x="-40%" y="-40%" width="180%" height="180%"><feGaussianBlur stdDeviation="18"/></filter><clipPath id="p4_face"><path d="M282,460 C292.5,401.2 290.5,388.8 330,345 C369.5,301.2 382.5,305.8 440,285 C497.5,264.2 497.5,267.0 560,262 C622.5,257.0 630.0,249.2 690,265 C750.0,280.8 759.5,278.7 800,325 C840.5,371.3 839.5,381.2 852,450 C864.5,518.8 856.8,530.0 850,600 C843.2,670.0 843.8,670.0 825,730 C806.2,790.0 806.3,791.2 775,840 C743.7,888.8 748.8,896.2 700,925 C651.2,953.8 637.5,957.5 580,955 C522.5,952.5 517.5,946.3 470,915 C422.5,883.7 426.3,883.8 390,830 C353.7,776.2 350.5,762.5 325,700 C299.5,637.5 298.8,640.0 288,580 C277.2,520.0 271.5,518.8 282,460Z"/></clipPath><clipPath id="p4_hair"><path d="M235,480 C224.0,450.0 220.5,432.5 218,380 C215.5,327.5 204.5,320.0 225,270 C245.5,220.0 251.2,218.8 300,180 C348.8,141.2 355.0,137.0 420,115 C485.0,93.0 490.0,94.5 560,92 C630.0,89.5 636.2,86.7 700,105 C763.8,123.3 772.5,123.7 815,165 C857.5,206.3 855.0,216.2 870,270 C885.0,323.8 878.8,333.7 875,380 C871.2,426.3 865.0,450.0 855,455 C845.0,460.0 848.8,432.5 835,400 C821.2,367.5 833.8,358.0 800,325 C766.2,292.0 757.5,284.3 700,268 C642.5,251.7 632.5,256.5 570,260 C507.5,263.5 506.3,263.2 450,282 C393.7,300.8 385.0,295.5 345,335 C305.0,374.5 310.8,398.7 290,440 C269.2,481.3 275.8,490.0 262,500 C248.2,510.0 246.0,510.0 235,480Z"/></clipPath></defs><g clip-path="url(#p4_c)"><rect x="0" y="0" width="1200" height="1200" fill="#787878" /><g filter="url(#p4_g)"><ellipse cx="140" cy="360" rx="90" ry="190" fill="#9a9a9a" /><ellipse cx="190" cy="740" rx="130" ry="90" fill="#4c4c4c" /><ellipse cx="130" cy="950" rx="100" ry="100" fill="#666" /><ellipse cx="925" cy="450" rx="45" ry="300" fill="#a2a2a2" /><ellipse cx="1035" cy="600" rx="60" ry="300" fill="#686868" /><ellipse cx="965" cy="870" rx="90" ry="100" fill="#8e8e8e" /><ellipse cx="240" cy="170" rx="150" ry="100" fill="#6c6c6c" /><ellipse cx="880" cy="170" rx="120" ry="100" fill="#747474" /></g><g filter="url(#p4_f)"><polygon points="140,1005 338,852 314,1000 428,1088 350,1140" fill="#2c2c2c" /><polygon points="800,842 965,945 800,1095 640,1130 800,960" fill="#292929" /><polygon points="334,872 310,1000 428,1084 640,1090 802,960 794,848 700,1002 560,1038 420,962" fill="#cbcbcb" /><polygon points="418,1086 482,1050 602,1055 648,1098 602,1135 450,1135" fill="#282828" /><path d="M340,760 C456.5,735.0 687.0,752.5 800,780 C913.0,807.5 817.0,813.5 792,870 C767.0,926.5 758.0,963.0 700,1006 C642.0,1049.0 630.0,1052.0 560,1042 C490.0,1032.0 476.5,1006.5 420,966 C363.5,925.5 354.0,931.5 334,880 C314.0,828.5 223.5,785.0 340,760Z" fill="#6c6c6c" /><ellipse cx="250" cy="545" rx="36" ry="92" fill="#7a7a7a" /><ellipse cx="248" cy="555" rx="15" ry="55" fill="#5a5a5a" /><path d="M282,460 C292.5,401.2 290.5,388.8 330,345 C369.5,301.2 382.5,305.8 440,285 C497.5,264.2 497.5,267.0 560,262 C622.5,257.0 630.0,249.2 690,265 C750.0,280.8 759.5,278.7 800,325 C840.5,371.3 839.5,381.2 852,450 C864.5,518.8 856.8,530.0 850,600 C843.2,670.0 843.8,670.0 825,730 C806.2,790.0 806.3,791.2 775,840 C743.7,888.8 748.8,896.2 700,925 C651.2,953.8 637.5,957.5 580,955 C522.5,952.5 517.5,946.3 470,915 C422.5,883.7 426.3,883.8 390,830 C353.7,776.2 350.5,762.5 325,700 C299.5,637.5 298.8,640.0 288,580 C277.2,520.0 271.5,518.8 282,460Z" fill="#8c8c8c" /></g><g clip-path="url(#p4_face)"><g filter="url(#p4_m)"><ellipse cx="540" cy="350" rx="200" ry="75" fill="#a2a2a2" /><ellipse cx="410" cy="650" rx="100" ry="150" fill="#999" /><ellipse cx="800" cy="640" rx="65" ry="250" fill="#606060" /><ellipse cx="600" cy="915" rx="190" ry="60" fill="#666" /><ellipse cx="620" cy="600" rx="50" ry="100" fill="#9c9c9c" /><ellipse cx="470" cy="510" rx="90" ry="40" fill="#6c6c6c" /><ellipse cx="720" cy="505" rx="80" ry="38" fill="#666" /><ellipse cx="600" cy="830" rx="150" ry="50" fill="#7a7a7a" /></g></g><g filter="url(#p4_f)"><path d="M235,480 C224.0,450.0 220.5,432.5 218,380 C215.5,327.5 204.5,320.0 225,270 C245.5,220.0 251.2,218.8 300,180 C348.8,141.2 355.0,137.0 420,115 C485.0,93.0 490.0,94.5 560,92 C630.0,89.5 636.2,86.7 700,105 C763.8,123.3 772.5,123.7 815,165 C857.5,206.3 855.0,216.2 870,270 C885.0,323.8 878.8,333.7 875,380 C871.2,426.3 865.0,450.0 855,455 C845.0,460.0 848.8,432.5 835,400 C821.2,367.5 833.8,358.0 800,325 C766.2,292.0 757.5,284.3 700,268 C642.5,251.7 632.5,256.5 570,260 C507.5,263.5 506.3,263.2 450,282 C393.7,300.8 385.0,295.5 345,335 C305.0,374.5 310.8,398.7 290,440 C269.2,481.3 275.8,490.0 262,500 C248.2,510.0 246.0,510.0 235,480Z" fill="#6a6a6a" /></g><g clip-path="url(#p4_hair)"><g filter="url(#p4_f)"><polyline points="240,440 255,320 320,230" fill="none" stroke="#909090" stroke-width="30" stroke-linecap="round" stroke-linejoin="round" /><polyline points="300,300 380,200 500,150" fill="none" stroke="#858585" stroke-width="28" stroke-linecap="round" stroke-linejoin="round" /><polyline points="450,130 600,118 740,150" fill="none" stroke="#5a5a5a" stroke-width="30" stroke-linecap="round" stroke-linejoin="round" /><polyline points="480,220 620,200 760,240 840,330" fill="none" stroke="#747474" stroke-width="26" stroke-linecap="round" stroke-linejoin="round" /><polyline points="380,270 520,240" fill="none" stroke="#585858" stroke-width="20" stroke-linecap="round" stroke-linejoin="round" /><polyline points="800,180 860,280 862,400" fill="none" stroke="#5c5c5c" stroke-width="20" stroke-linecap="round" stroke-linejoin="round" /></g></g><g filter="url(#p4_h)"><ellipse cx="474" cy="514" rx="67.5" ry="29.7" fill="#5e5e5e" transform="rotate(3 474 514)" /><ellipse cx="474" cy="512" rx="54" ry="16.2" fill="#222" transform="rotate(3 474 512)" /><ellipse cx="474" cy="512" rx="20.52" ry="18.36" fill="#1c1c1c" transform="rotate(3 474 512)" /><ellipse cx="724" cy="506" rx="62.5" ry="27.5" fill="#5a5a5a" transform="rotate(-2 724 506)" /><ellipse cx="724" cy="504" rx="50" ry="15" fill="#222" transform="rotate(-2 724 504)" /><ellipse cx="724" cy="504" rx="19" ry="17" fill="#1c1c1c" transform="rotate(-2 724 504)" /><polyline points="395,468 480,452 565,478" fill="none" stroke="#383838" stroke-width="18" stroke-linecap="round" stroke-linejoin="round" /><polyline points="655,472 730,452 805,466" fill="none" stroke="#383838" stroke-width="18" stroke-linecap="round" stroke-linejoin="round" /><polyline points="652,520 662,620 668,660" fill="none" stroke="#737373" stroke-width="22" stroke-linecap="round" stroke-linejoin="round" /><ellipse cx="614" cy="694" rx="76" ry="23" fill="#4c4c4c" /><ellipse cx="572" cy="688" rx="18" ry="13" fill="#333" /><ellipse cx="656" cy="688" rx="18" ry="13" fill="#383838" /><path d="M498,792 Q600,776 704,794" fill="none" stroke="#383838" stroke-width="15" stroke-linecap="round" stroke-linejoin="round" /><path d="M525,815 Q600,835 680,815" fill="none" stroke="#747474" stroke-width="14" stroke-linecap="round" stroke-linejoin="round" /><polyline points="470,1075 520,1130" fill="none" stroke="#505050" stroke-width="10" stroke-linecap="round" stroke-linejoin="round" /><polyline points="540,1070 590,1125" fill="none" stroke="#505050" stroke-width="10" stroke-linecap="round" stroke-linejoin="round" /></g></g></svg></div>
<div class="pic" style="left:66.50px;top:863.00px;"><svg viewBox="56 111 1038 1038"><defs><clipPath id="p5_c"><circle cx="575" cy="630" r="517"/></clipPath><filter id="p5_g" x="-40%" y="-40%" width="180%" height="180%"><feGaussianBlur stdDeviation="30"/></filter><filter id="p5_f" x="-40%" y="-40%" width="180%" height="180%"><feGaussianBlur stdDeviation="10"/></filter><filter id="p5_h" x="-40%" y="-40%" width="180%" height="180%"><feGaussianBlur stdDeviation="4.5"/></filter><filter id="p5_m" x="-40%" y="-40%" width="180%" height="180%"><feGaussianBlur stdDeviation="18"/></filter><clipPath id="p5_face"><path d="M302,460 C306.8,385.0 305.5,399.5 335,350 C364.5,300.5 368.7,294.0 420,262 C471.3,230.0 480.0,230.5 540,222 C600.0,213.5 605.0,213.5 660,228 C715.0,242.5 717.0,238.2 760,280 C803.0,321.8 808.2,335.0 832,395 C855.8,455.0 850.0,453.7 855,520 C860.0,586.3 858.8,597.5 852,660 C845.2,722.5 849.8,717.5 828,770 C806.2,822.5 808.3,828.7 765,870 C721.7,911.3 710.0,920.5 655,935 C600.0,949.5 597.5,943.0 545,928 C492.5,913.0 489.3,910.8 445,875 C400.7,839.2 400.3,841.3 368,785 C335.7,728.7 332.5,731.3 316,650 C299.5,568.7 297.2,535.0 302,460Z"/></clipPath><clipPath id="p5_hair"><path d="M288,470 C280.0,443.7 282.0,410.0 290,360 C298.0,310.0 295.0,313.8 320,270 C345.0,226.2 345.0,220.0 390,185 C435.0,150.0 442.5,146.8 500,130 C557.5,113.2 560.0,113.0 620,118 C680.0,123.0 690.0,123.2 740,150 C790.0,176.8 788.7,180.0 820,225 C851.3,270.0 851.2,273.7 865,330 C878.8,386.3 881.3,427.5 875,450 C868.7,472.5 858.8,452.5 840,420 C821.2,387.5 830.0,362.5 800,320 C770.0,277.5 770.0,274.5 720,250 C670.0,225.5 660.0,225.8 600,222 C540.0,218.2 532.5,218.0 480,235 C427.5,252.0 425.0,256.2 390,290 C355.0,323.8 357.0,326.2 340,370 C323.0,413.8 335.0,440.0 322,465 C309.0,490.0 296.0,496.3 288,470Z"/></clipPath></defs><g clip-path="url(#p5_c)"><rect x="0" y="0" width="1300" height="1300" fill="#484848" /><g filter="url(#p5_f)"><polygon points="140,950 388,846 422,900 434,1062 508,1175 40,1175" fill="#242424" /><polygon points="824,756 1045,846 1105,1000 800,1175 742,1108 824,900" fill="#262626" /><polygon points="408,893 432,1064 476,1040 560,1020 660,1040 744,1088 824,778 804,758 700,960 560,1002 462,962" fill="#d8d8d8" /><polygon points="440,1054 502,1014 622,1019 674,1054 604,1175 500,1175" fill="#1c1c1c" /><ellipse cx="882" cy="535" rx="30" ry="92" fill="#8f8f8f" /><ellipse cx="292" cy="520" rx="25" ry="80" fill="#8a8a8a" /><path d="M302,460 C306.8,385.0 305.5,399.5 335,350 C364.5,300.5 368.7,294.0 420,262 C471.3,230.0 480.0,230.5 540,222 C600.0,213.5 605.0,213.5 660,228 C715.0,242.5 717.0,238.2 760,280 C803.0,321.8 808.2,335.0 832,395 C855.8,455.0 850.0,453.7 855,520 C860.0,586.3 858.8,597.5 852,660 C845.2,722.5 849.8,717.5 828,770 C806.2,822.5 808.3,828.7 765,870 C721.7,911.3 710.0,920.5 655,935 C600.0,949.5 597.5,943.0 545,928 C492.5,913.0 489.3,910.8 445,875 C400.7,839.2 400.3,841.3 368,785 C335.7,728.7 332.5,731.3 316,650 C299.5,568.7 297.2,535.0 302,460Z" fill="#aaaaaa" /></g><g clip-path="url(#p5_face)"><g filter="url(#p5_m)"><ellipse cx="560" cy="320" rx="190" ry="85" fill="#bababa" /><ellipse cx="430" cy="660" rx="100" ry="130" fill="#b6b6b6" /><ellipse cx="800" cy="620" rx="60" ry="220" fill="#868686" /><ellipse cx="600" cy="900" rx="170" ry="50" fill="#8a8a8a" /><ellipse cx="560" cy="600" rx="50" ry="90" fill="#b8b8b8" /><ellipse cx="430" cy="525" rx="85" ry="36" fill="#8e8e8e" /><ellipse cx="672" cy="518" rx="80" ry="36" fill="#8a8a8a" /><ellipse cx="690" cy="720" rx="70" ry="80" fill="#a2a2a2" /></g></g><g filter="url(#p5_f)"><path d="M288,470 C280.0,443.7 282.0,410.0 290,360 C298.0,310.0 295.0,313.8 320,270 C345.0,226.2 345.0,220.0 390,185 C435.0,150.0 442.5,146.8 500,130 C557.5,113.2 560.0,113.0 620,118 C680.0,123.0 690.0,123.2 740,150 C790.0,176.8 788.7,180.0 820,225 C851.3,270.0 851.2,273.7 865,330 C878.8,386.3 881.3,427.5 875,450 C868.7,472.5 858.8,452.5 840,420 C821.2,387.5 830.0,362.5 800,320 C770.0,277.5 770.0,274.5 720,250 C670.0,225.5 660.0,225.8 600,222 C540.0,218.2 532.5,218.0 480,235 C427.5,252.0 425.0,256.2 390,290 C355.0,323.8 357.0,326.2 340,370 C323.0,413.8 335.0,440.0 322,465 C309.0,490.0 296.0,496.3 288,470Z" fill="#9a9a9a" /></g><g clip-path="url(#p5_hair)"><g filter="url(#p5_f)"><polyline points="390,215 520,160 660,158 780,225" fill="none" stroke="#5e5e5e" stroke-width="50" stroke-linecap="round" stroke-linejoin="round" /><polyline points="300,440 310,340 360,260" fill="none" stroke="#b4b4b4" stroke-width="26" stroke-linecap="round" stroke-linejoin="round" /><polyline points="790,260 845,350 860,440" fill="none" stroke="#b0b0b0" stroke-width="24" stroke-linecap="round" stroke-linejoin="round" /><polyline points="440,240 560,200 690,215" fill="none" stroke="#8a8a8a" stroke-width="20" stroke-linecap="round" stroke-linejoin="round" /></g></g><g filter="url(#p5_h)"><ellipse cx="432" cy="524" rx="40" ry="13" fill="#3c3c3c" /><ellipse cx="674" cy="517" rx="40" ry="13" fill="#3c3c3c" /><polyline points="350,470 432,452 512,470" fill="none" stroke="#6e6e6e" stroke-width="13" stroke-linecap="round" stroke-linejoin="round" /><polyline points="600,466 682,448 764,470" fill="none" stroke="#6e6e6e" stroke-width="13" stroke-linecap="round" stroke-linejoin="round" /><rect x="320" y="486" width="204" height="108" rx="24" fill="none" stroke="#dcdcdc" stroke-width="10"/><rect x="588" y="476" width="178" height="108" rx="24" fill="none" stroke="#dcdcdc" stroke-width="10"/><polyline points="524,520 588,514" fill="none" stroke="#cfcfcf" stroke-width="9" stroke-linecap="round" stroke-linejoin="round" /><polyline points="320,505 292,500" fill="none" stroke="#c0c0c0" stroke-width="8" stroke-linecap="round" stroke-linejoin="round" /><polyline points="766,496 818,470 862,434" fill="none" stroke="#161616" stroke-width="16" stroke-linecap="round" stroke-linejoin="round" /><polyline points="560,530 552,620" fill="none" stroke="#bcbcbc" stroke-width="18" stroke-linecap="round" stroke-linejoin="round" /><ellipse cx="544" cy="654" rx="62" ry="22" fill="#686868" /><ellipse cx="510" cy="648" rx="16" ry="12" fill="#484848" /><ellipse cx="580" cy="648" rx="16" ry="12" fill="#4c4c4c" /><path d="M440,742 Q540,712 642,740" fill="none" stroke="#bcbcbc" stroke-width="20" stroke-linecap="round" stroke-linejoin="round" /><path d="M452,768 Q545,782 642,760" fill="none" stroke="#505050" stroke-width="10" stroke-linecap="round" stroke-linejoin="round" /><polyline points="520,1030 562,1170" fill="none" stroke="#383838" stroke-width="10" stroke-linecap="round" stroke-linejoin="round" /></g></g></svg></div>
<div class="pic" style="left:621.20px;top:251.70px;"><svg viewBox="52 56 1038 1038"><defs><clipPath id="p6_c"><circle cx="571" cy="575" r="517"/></clipPath><filter id="p6_g" x="-40%" y="-40%" width="180%" height="180%"><feGaussianBlur stdDeviation="30"/></filter><filter id="p6_f" x="-40%" y="-40%" width="180%" height="180%"><feGaussianBlur stdDeviation="10"/></filter><filter id="p6_h" x="-40%" y="-40%" width="180%" height="180%"><feGaussianBlur stdDeviation="4.5"/></filter><filter id="p6_m" x="-40%" y="-40%" width="180%" height="180%"><feGaussianBlur stdDeviation="18"/></filter><clipPath id="p6_head"><path d="M292,420 C292.8,350.0 291.0,353.8 318,290 C345.0,226.2 349.5,215.5 400,165 C450.5,114.5 457.5,112.3 520,88 C582.5,63.7 585.0,65.0 650,68 C715.0,71.0 722.5,70.7 780,100 C837.5,129.3 841.2,132.5 880,185 C918.8,237.5 918.7,243.7 935,310 C951.3,376.3 950.0,380.0 945,450 C940.0,520.0 933.8,525.0 915,590 C896.2,655.0 898.8,655.0 870,710 C841.2,765.0 842.5,773.7 800,810 C757.5,846.3 755.0,847.5 700,855 C645.0,862.5 637.5,858.8 580,840 C522.5,821.2 520.0,817.5 470,780 C420.0,742.5 418.8,742.5 380,690 C341.2,637.5 337.0,637.5 315,570 C293.0,502.5 291.2,490.0 292,420Z"/></clipPath></defs><g clip-path="url(#p6_c)"><rect x="0" y="0" width="1300" height="1300" fill="#dbdbdb" /><g filter="url(#p6_g)"><ellipse cx="180" cy="260" rx="200" ry="260" fill="#d0d0d0" /><ellipse cx="990" cy="560" rx="150" ry="350" fill="#e6e6e6" /></g><g filter="url(#p6_f)"><polygon points="20,700 214,646 300,800 400,930 480,1030 565,1120 200,1120 20,860" fill="#2b2b2b" /><polygon points="214,650 284,575 340,640 420,760 566,900 566,1120 480,1030 300,800" fill="#7e7e7e" /><polygon points="300,560 520,780 620,880 566,960 420,800 330,680" fill="#8e8e8e" /><polygon points="855,895 965,940 905,1015 838,1000" fill="#484848" /><path d="M292,420 C292.8,350.0 291.0,353.8 318,290 C345.0,226.2 349.5,215.5 400,165 C450.5,114.5 457.5,112.3 520,88 C582.5,63.7 585.0,65.0 650,68 C715.0,71.0 722.5,70.7 780,100 C837.5,129.3 841.2,132.5 880,185 C918.8,237.5 918.7,243.7 935,310 C951.3,376.3 950.0,380.0 945,450 C940.0,520.0 933.8,525.0 915,590 C896.2,655.0 898.8,655.0 870,710 C841.2,765.0 842.5,773.7 800,810 C757.5,846.3 755.0,847.5 700,855 C645.0,862.5 637.5,858.8 580,840 C522.5,821.2 520.0,817.5 470,780 C420.0,742.5 418.8,742.5 380,690 C341.2,637.5 337.0,637.5 315,570 C293.0,502.5 291.2,490.0 292,420Z" fill="#9c9c9c" /></g><g clip-path="url(#p6_head)"><g filter="url(#p6_m)"><ellipse cx="660" cy="200" rx="220" ry="120" fill="#b6b6b6" /><ellipse cx="830" cy="640" rx="100" ry="160" fill="#acacac" /><ellipse cx="430" cy="620" rx="100" ry="170" fill="#969696" /><ellipse cx="325" cy="440" rx="34" ry="120" fill="#565656" /><ellipse cx="640" cy="830" rx="170" ry="50" fill="#858585" /><ellipse cx="880" cy="330" rx="60" ry="130" fill="#a8a8a8" /><ellipse cx="520" cy="430" rx="90" ry="40" fill="#787878" /><ellipse cx="752" cy="495" rx="75" ry="36" fill="#7c7c7c" /></g></g><g filter="url(#p6_f)"><path d="M545,905 C550.5,870.0 566.2,877.5 600,860 C633.8,842.5 630.0,837.5 680,835 C730.0,832.5 749.0,828.7 800,850 C851.0,871.3 865.5,882.5 884,920 C902.5,957.5 899.0,964.0 874,1000 C849.0,1036.0 852.5,1037.7 784,1064 C715.5,1090.3 651.5,1121.0 600,1105 C548.5,1089.0 591.8,1050.0 578,1000 C564.2,950.0 539.5,940.0 545,905Z" fill="#a9a9a9" /><ellipse cx="720" cy="925" rx="110" ry="50" fill="#bbbbbb" /><ellipse cx="650" cy="1040" rx="90" ry="40" fill="#979797" /></g><g filter="url(#p6_h)"><ellipse cx="527" cy="426" rx="70" ry="30.8" fill="#6c6c6c" transform="rotate(12 527 426)" /><ellipse cx="527" cy="424" rx="56" ry="16.8" fill="#2a2a2a" transform="rotate(12 527 424)" /><ellipse cx="527" cy="424" rx="21.28" ry="19.04" fill="#1c1c1c" transform="rotate(12 527 424)" /><ellipse cx="754" cy="494" rx="57.5" ry="25.3" fill="#707070" transform="rotate(14 754 494)" /><ellipse cx="754" cy="492" rx="46" ry="13.8" fill="#2a2a2a" transform="rotate(14 754 492)" /><ellipse cx="754" cy="492" rx="17.48" ry="15.64" fill="#1c1c1c" transform="rotate(14 754 492)" /><polyline points="345,275 400,185 482,100" fill="none" stroke="#6c6c6c" stroke-width="16" stroke-linecap="round" stroke-linejoin="round" /><polyline points="932,250 948,345" fill="none" stroke="#858585" stroke-width="12" stroke-linecap="round" stroke-linejoin="round" /><polyline points="458,346 540,352 608,388" fill="none" stroke="#3c3c3c" stroke-width="19" stroke-linecap="round" stroke-linejoin="round" /><polyline points="718,436 790,446 848,478" fill="none" stroke="#404040" stroke-width="17" stroke-linecap="round" stroke-linejoin="round" /><polyline points="652,440 668,560" fill="none" stroke="#b8b8b8" stroke-width="22" stroke-linecap="round" stroke-linejoin="round" /><ellipse cx="614" cy="594" rx="64" ry="22" fill="#606060" /><ellipse cx="580" cy="588" rx="16" ry="12" fill="#404040" /><ellipse cx="650" cy="596" rx="16" ry="12" fill="#444" /><path d="M488,660 Q570,668 648,694" fill="none" stroke="#3c3c3c" stroke-width="13" stroke-linecap="round" stroke-linejoin="round" /><path d="M510,690 Q575,710 640,715" fill="none" stroke="#888" stroke-width="12" stroke-linecap="round" stroke-linejoin="round" /><polyline points="560,905 620,893 702,868" fill="none" stroke="#707070" stroke-width="9" stroke-linecap="round" stroke-linejoin="round" /><polyline points="600,990 682,1012" fill="none" stroke="#848484" stroke-width="8" stroke-linecap="round" stroke-linejoin="round" /><polyline points="585,950 650,945" fill="none" stroke="#8c8c8c" stroke-width="7" stroke-linecap="round" stroke-linejoin="round" /><polyline points="402,880 482,1012" fill="none" stroke="#505050" stroke-width="10" stroke-linecap="round" stroke-linejoin="round" /><polyline points="362,870 442,1002" fill="none" stroke="#5c5c5c" stroke-width="8" stroke-linecap="round" stroke-linejoin="round" /><polyline points="330,700 380,850" fill="none" stroke="#606060" stroke-width="9" stroke-linecap="round" stroke-linejoin="round" /></g></g></svg></div>
<div class="pic" style="left:621.20px;top:405.50px;"><svg viewBox="52 90 1038 1038"><defs><clipPath id="p7_c"><circle cx="571" cy="609" r="517"/></clipPath><filter id="p7_g" x="-40%" y="-40%" width="180%" height="180%"><feGaussianBlur stdDeviation="30"/></filter><filter id="p7_f" x="-40%" y="-40%" width="180%" height="180%"><feGaussianBlur stdDeviation="10"/></filter><filter id="p7_h" x="-40%" y="-40%" width="180%" height="180%"><feGaussianBlur stdDeviation="4.5"/></filter><filter id="p7_m" x="-40%" y="-40%" width="180%" height="180%"><feGaussianBlur stdDeviation="18"/></filter><clipPath id="p7_face"><path d="M308,430 C316.0,367.5 312.0,347.5 340,300 C368.0,252.5 370.0,258.8 420,240 C470.0,221.2 480.0,228.0 540,225 C600.0,222.0 602.5,216.2 660,228 C717.5,239.8 727.5,229.0 770,272 C812.5,315.0 813.0,333.0 830,400 C847.0,467.0 840.5,475.0 838,540 C835.5,605.0 834.5,605.0 820,660 C805.5,715.0 810.0,712.5 780,760 C750.0,807.5 750.0,818.7 700,850 C650.0,881.3 637.5,885.0 580,885 C522.5,885.0 517.5,878.8 470,850 C422.5,821.2 423.8,817.5 390,770 C356.2,722.5 355.5,715.0 335,660 C314.5,605.0 314.8,607.5 308,550 C301.2,492.5 300.0,492.5 308,430Z"/></clipPath><clipPath id="p7_hair"><path d="M288,460 C279.0,437.5 279.0,400.0 282,350 C285.0,300.0 283.0,302.5 300,260 C317.0,217.5 310.0,215.0 350,180 C390.0,145.0 402.5,140.0 460,120 C517.5,100.0 520.0,101.3 580,100 C640.0,98.7 645.0,97.5 700,115 C755.0,132.5 760.0,131.2 800,170 C840.0,208.8 840.5,217.5 860,270 C879.5,322.5 875.0,332.5 878,380 C881.0,427.5 882.8,450.0 872,460 C861.2,470.0 850.5,452.5 835,420 C819.5,387.5 828.8,368.0 810,330 C791.2,292.0 797.5,293.5 760,268 C722.5,242.5 715.0,238.8 660,228 C605.0,217.2 597.5,223.0 540,225 C482.5,227.0 476.3,224.7 430,236 C383.7,247.3 381.3,239.0 355,270 C328.7,301.0 334.3,317.5 325,360 C315.7,402.5 327.3,415.0 318,440 C308.7,465.0 297.0,482.5 288,460Z"/></clipPath></defs><g clip-path="url(#p7_c)"><rect x="0" y="0" width="1300" height="1300" fill="#8a8a8a" /><g filter="url(#p7_f)"><polygon points="200,1005 354,886 322,1040 424,1115 300,1150" fill="#2d2d2d" /><polygon points="802,846 945,968 742,1150 700,1104 802,960" fill="#2e2e2e" /><polygon points="354,876 320,1040 480,1150 742,1150 804,960 794,848 640,1000 520,1022 430,960" fill="#cfcfcf" /><path d="M420,790 C515.0,767.5 680.0,770.0 770,790 C860.0,810.0 812.5,816.0 780,870 C747.5,924.0 705.0,967.5 640,1006 C575.0,1044.5 570.0,1035.0 520,1024 C470.0,1013.0 472.5,998.0 440,962 C407.5,926.0 395.0,923.0 390,880 C385.0,837.0 325.0,812.5 420,790Z" fill="#a0a0a0" /><ellipse cx="275" cy="535" rx="30" ry="90" fill="#ababab" /><ellipse cx="868" cy="545" rx="30" ry="92" fill="#989898" /><path d="M308,430 C316.0,367.5 312.0,347.5 340,300 C368.0,252.5 370.0,258.8 420,240 C470.0,221.2 480.0,228.0 540,225 C600.0,222.0 602.5,216.2 660,228 C717.5,239.8 727.5,229.0 770,272 C812.5,315.0 813.0,333.0 830,400 C847.0,467.0 840.5,475.0 838,540 C835.5,605.0 834.5,605.0 820,660 C805.5,715.0 810.0,712.5 780,760 C750.0,807.5 750.0,818.7 700,850 C650.0,881.3 637.5,885.0 580,885 C522.5,885.0 517.5,878.8 470,850 C422.5,821.2 423.8,817.5 390,770 C356.2,722.5 355.5,715.0 335,660 C314.5,605.0 314.8,607.5 308,550 C301.2,492.5 300.0,492.5 308,430Z" fill="#c8c8c8" /></g><g clip-path="url(#p7_face)"><g filter="url(#p7_m)"><ellipse cx="510" cy="330" rx="180" ry="85" fill="#dcdcdc" /><ellipse cx="440" cy="620" rx="100" ry="140" fill="#d6d6d6" /><ellipse cx="790" cy="600" rx="65" ry="220" fill="#a0a0a0" /><ellipse cx="600" cy="880" rx="160" ry="40" fill="#969696" /><ellipse cx="530" cy="560" rx="50" ry="80" fill="#d8d8d8" /><ellipse cx="412" cy="474" rx="80" ry="34" fill="#a4a4a4" /><ellipse cx="684" cy="474" rx="80" ry="34" fill="#9c9c9c" /><ellipse cx="580" cy="800" rx="140" ry="50" fill="#bababa" /></g></g><g filter="url(#p7_f)"><path d="M288,460 C279.0,437.5 279.0,400.0 282,350 C285.0,300.0 283.0,302.5 300,260 C317.0,217.5 310.0,215.0 350,180 C390.0,145.0 402.5,140.0 460,120 C517.5,100.0 520.0,101.3 580,100 C640.0,98.7 645.0,97.5 700,115 C755.0,132.5 760.0,131.2 800,170 C840.0,208.8 840.5,217.5 860,270 C879.5,322.5 875.0,332.5 878,380 C881.0,427.5 882.8,450.0 872,460 C861.2,470.0 850.5,452.5 835,420 C819.5,387.5 828.8,368.0 810,330 C791.2,292.0 797.5,293.5 760,268 C722.5,242.5 715.0,238.8 660,228 C605.0,217.2 597.5,223.0 540,225 C482.5,227.0 476.3,224.7 430,236 C383.7,247.3 381.3,239.0 355,270 C328.7,301.0 334.3,317.5 325,360 C315.7,402.5 327.3,415.0 318,440 C308.7,465.0 297.0,482.5 288,460Z" fill="#2c2c2c" /></g><g clip-path="url(#p7_hair)"><g filter="url(#p7_f)"><polyline points="330,220 460,160 620,145 770,195" fill="none" stroke="#454545" stroke-width="26" stroke-linecap="round" stroke-linejoin="round" /><polyline points="300,420 305,320 340,250" fill="none" stroke="#3c3c3c" stroke-width="20" stroke-linecap="round" stroke-linejoin="round" /><polyline points="400,215 540,190 680,200" fill="none" stroke="#1c1c1c" stroke-width="22" stroke-linecap="round" stroke-linejoin="round" /><polyline points="820,260 860,360 866,440" fill="none" stroke="#3e3e3e" stroke-width="18" stroke-linecap="round" stroke-linejoin="round" /></g></g><g filter="url(#p7_h)"><ellipse cx="412" cy="474" rx="50" ry="12" fill="#4c4c4c" /><ellipse cx="684" cy="474" rx="50" ry="12" fill="#4c4c4c" /><ellipse cx="412" cy="474" rx="17" ry="12" fill="#2a2a2a" /><ellipse cx="684" cy="474" rx="17" ry="12" fill="#2a2a2a" /><polyline points="338,434 410,424 482,444" fill="none" stroke="#545454" stroke-width="14" stroke-linecap="round" stroke-linejoin="round" /><polyline points="598,444 680,428 764,434" fill="none" stroke="#545454" stroke-width="14" stroke-linecap="round" stroke-linejoin="round" /><polyline points="522,470 516,570" fill="none" stroke="#a8a8a8" stroke-width="20" stroke-linecap="round" stroke-linejoin="round" /><ellipse cx="524" cy="604" rx="58" ry="22" fill="#727272" /><ellipse cx="490" cy="598" rx="15" ry="11" fill="#505050" /><ellipse cx="558" cy="598" rx="15" ry="11" fill="#545454" /><path d="M418,688 Q530,724 644,688" fill="none" stroke="#3c3c3c" stroke-width="14" stroke-linecap="round" stroke-linejoin="round" /><path d="M440,716 Q530,764 622,716" fill="none" stroke="#a8a8a8" stroke-width="18" stroke-linecap="round" stroke-linejoin="round" /><polyline points="520,1022 540,1145" fill="none" stroke="#989898" stroke-width="10" stroke-linecap="round" stroke-linejoin="round" /><polyline points="380,960 420,1080" fill="none" stroke="#b0b0b0" stroke-width="8" stroke-linecap="round" stroke-linejoin="round" /><polyline points="700,980 660,1120" fill="none" stroke="#b4b4b4" stroke-width="8" stroke-linecap="round" stroke-linejoin="round" /></g></g></svg></div>
<div class="pic" style="left:624.00px;top:556.00px;"><svg viewBox="74 94 1038 1038"><defs><clipPath id="p8_c"><circle cx="593" cy="613" r="517"/></clipPath><filter id="p8_g" x="-40%" y="-40%" width="180%" height="180%"><feGaussianBlur stdDeviation="30"/></filter><filter id="p8_f" x="-40%" y="-40%" width="180%" height="180%"><feGaussianBlur stdDeviation="10"/></filter><filter id="p8_h" x="-40%" y="-40%" width="180%" height="180%"><feGaussianBlur stdDeviation="4.5"/></filter><filter id="p8_m" x="-40%" y="-40%" width="180%" height="180%"><feGaussianBlur stdDeviation="18"/></filter><clipPath id="p8_face"><path d="M290,450 C292.5,390.0 285.0,393.8 305,350 C325.0,306.2 326.2,303.8 370,275 C413.8,246.2 422.5,247.5 480,235 C537.5,222.5 540.0,225.0 600,225 C660.0,225.0 662.5,216.2 720,235 C777.5,253.8 794.5,253.7 830,300 C865.5,346.3 853.0,355.0 862,420 C871.0,485.0 869.0,490.0 866,560 C863.0,630.0 866.5,637.5 850,700 C833.5,762.5 830.0,760.0 800,810 C770.0,860.0 770.0,863.7 730,900 C690.0,936.3 687.5,938.7 640,955 C592.5,971.3 587.5,972.5 540,965 C492.5,957.5 490.0,958.8 450,925 C410.0,891.2 411.3,881.3 380,830 C348.7,778.7 346.3,780.0 325,720 C303.7,660.0 303.8,657.5 295,590 C286.2,522.5 287.5,510.0 290,450Z"/></clipPath><clipPath id="p8_hair"><path d="M270,450 C263.0,426.2 260.2,397.5 264,350 C267.8,302.5 266.0,300.0 285,260 C304.0,220.0 301.2,222.5 340,190 C378.8,157.5 385.0,152.5 440,130 C495.0,107.5 500.0,106.3 560,100 C620.0,93.7 622.5,93.7 680,105 C737.5,116.3 742.5,112.5 790,145 C837.5,177.5 843.7,183.7 870,235 C896.3,286.3 889.5,303.7 895,350 C900.5,396.3 902.0,401.2 892,420 C882.0,438.8 866.8,445.0 855,425 C843.2,405.0 861.3,378.8 845,340 C828.7,301.2 826.3,297.5 790,270 C753.7,242.5 750.0,242.0 700,230 C650.0,218.0 645.0,220.7 590,222 C535.0,223.3 531.3,223.5 480,235 C428.7,246.5 425.5,243.0 385,268 C344.5,293.0 341.3,290.7 318,335 C294.7,379.3 304.0,416.2 292,445 C280.0,473.8 277.0,473.8 270,450Z"/></clipPath></defs><g clip-path="url(#p8_c)"><rect x="0" y="0" width="1300" height="1300" fill="#dddddd" /><g filter="url(#p8_f)"><polygon points="240,1010 414,946 402,1040 454,1104 380,1155" fill="#202020" /><polygon points="882,806 1005,948 802,1155 762,1104 882,900" fill="#202020" /><polygon points="414,946 400,1040 454,1104 560,1060 782,1104 884,820 864,798 742,980 560,1050 442,940" fill="#f5f5f5" /><polygon points="450,1104 500,1080 562,1090 604,1150 470,1150" fill="#303030" /><ellipse cx="902" cy="545" rx="36" ry="112" fill="#8c8c8c" /><ellipse cx="908" cy="560" rx="16" ry="70" fill="#585858" /><path d="M290,450 C292.5,390.0 285.0,393.8 305,350 C325.0,306.2 326.2,303.8 370,275 C413.8,246.2 422.5,247.5 480,235 C537.5,222.5 540.0,225.0 600,225 C660.0,225.0 662.5,216.2 720,235 C777.5,253.8 794.5,253.7 830,300 C865.5,346.3 853.0,355.0 862,420 C871.0,485.0 869.0,490.0 866,560 C863.0,630.0 866.5,637.5 850,700 C833.5,762.5 830.0,760.0 800,810 C770.0,860.0 770.0,863.7 730,900 C690.0,936.3 687.5,938.7 640,955 C592.5,971.3 587.5,972.5 540,965 C492.5,957.5 490.0,958.8 450,925 C410.0,891.2 411.3,881.3 380,830 C348.7,778.7 346.3,780.0 325,720 C303.7,660.0 303.8,657.5 295,590 C286.2,522.5 287.5,510.0 290,450Z" fill="#b8b8b8" /></g><g clip-path="url(#p8_face)"><g filter="url(#p8_m)"><ellipse cx="560" cy="320" rx="200" ry="75" fill="#cacaca" /><ellipse cx="420" cy="560" rx="85" ry="95" fill="#c4c4c4" /><ellipse cx="820" cy="540" rx="55" ry="170" fill="#989898" /><ellipse cx="530" cy="560" rx="45" ry="80" fill="#c6c6c6" /><ellipse cx="402" cy="474" rx="80" ry="34" fill="#9a9a9a" /><ellipse cx="654" cy="464" rx="80" ry="34" fill="#949494" /></g></g><g clip-path="url(#p8_face)"><g filter="url(#p8_m)"><path d="M298,640 C298.0,657.5 309.5,682.5 330,730 C350.5,777.5 350.0,781.2 380,830 C410.0,878.8 410.0,891.0 450,925 C490.0,959.0 492.5,958.2 540,966 C587.5,973.8 592.5,972.5 640,956 C687.5,939.5 690.0,936.5 730,900 C770.0,863.5 770.5,860.0 800,810 C829.5,760.0 834.2,742.5 848,700 C861.8,657.5 867.0,645.0 855,640 C843.0,635.0 828.8,667.5 800,680 C771.2,692.5 775.0,696.3 740,690 C705.0,683.7 705.0,666.3 660,655 C615.0,643.7 607.5,642.5 560,645 C512.5,647.5 505.0,651.2 470,665 C435.0,678.8 445.0,693.7 420,700 C395.0,706.3 392.5,700.0 370,690 C347.5,680.0 348.0,672.5 330,660 C312.0,647.5 298.0,622.5 298,640Z" fill="#868686" /><ellipse cx="545" cy="820" rx="120" ry="100" fill="#747474" /><ellipse cx="540" cy="690" rx="110" ry="28" fill="#747474" /><ellipse cx="780" cy="760" rx="60" ry="90" fill="#8e8e8e" /><ellipse cx="540" cy="745" rx="60" ry="22" fill="#8e8e8e" /></g></g><g filter="url(#p8_f)"><path d="M270,450 C263.0,426.2 260.2,397.5 264,350 C267.8,302.5 266.0,300.0 285,260 C304.0,220.0 301.2,222.5 340,190 C378.8,157.5 385.0,152.5 440,130 C495.0,107.5 500.0,106.3 560,100 C620.0,93.7 622.5,93.7 680,105 C737.5,116.3 742.5,112.5 790,145 C837.5,177.5 843.7,183.7 870,235 C896.3,286.3 889.5,303.7 895,350 C900.5,396.3 902.0,401.2 892,420 C882.0,438.8 866.8,445.0 855,425 C843.2,405.0 861.3,378.8 845,340 C828.7,301.2 826.3,297.5 790,270 C753.7,242.5 750.0,242.0 700,230 C650.0,218.0 645.0,220.7 590,222 C535.0,223.3 531.3,223.5 480,235 C428.7,246.5 425.5,243.0 385,268 C344.5,293.0 341.3,290.7 318,335 C294.7,379.3 304.0,416.2 292,445 C280.0,473.8 277.0,473.8 270,450Z" fill="#7e7e7e" /></g><g clip-path="url(#p8_hair)"><g filter="url(#p8_f)"><polyline points="400,160 540,120 690,128" fill="none" stroke="#9e9e9e" stroke-width="30" stroke-linecap="round" stroke-linejoin="round" /><polyline points="280,420 285,320 330,240" fill="none" stroke="#8c8c8c" stroke-width="22" stroke-linecap="round" stroke-linejoin="round" /><polyline points="800,180 870,280 880,400" fill="none" stroke="#6a6a6a" stroke-width="22" stroke-linecap="round" stroke-linejoin="round" /><polyline points="420,230 560,200 700,215" fill="none" stroke="#8e8e8e" stroke-width="18" stroke-linecap="round" stroke-linejoin="round" /></g></g><g filter="url(#p8_h)"><ellipse cx="402" cy="474" rx="44" ry="13" fill="#3c3c3c" /><ellipse cx="654" cy="464" rx="44" ry="13" fill="#3c3c3c" /><ellipse cx="402" cy="474" rx="15" ry="13" fill="#222" /><ellipse cx="654" cy="464" rx="15" ry="13" fill="#222" /><polyline points="318,426 410,414 502,432" fill="none" stroke="#5e5e5e" stroke-width="13" stroke-linecap="round" stroke-linejoin="round" /><polyline points="588,426 680,408 772,426" fill="none" stroke="#5e5e5e" stroke-width="13" stroke-linecap="round" stroke-linejoin="round" /><rect x="288" y="438" width="236" height="116" rx="22" fill="none" stroke="#6a6a6a" stroke-width="7"/><rect x="570" y="428" width="208" height="116" rx="22" fill="none" stroke="#6a6a6a" stroke-width="7"/><polyline points="524,470 570,464" fill="none" stroke="#6a6a6a" stroke-width="7" stroke-linecap="round" stroke-linejoin="round" /><polyline points="778,444 888,436" fill="none" stroke="#707070" stroke-width="8" stroke-linecap="round" stroke-linejoin="round" /><polyline points="288,455 256,462" fill="none" stroke="#808080" stroke-width="7" stroke-linecap="round" stroke-linejoin="round" /><polyline points="532,480 526,580" fill="none" stroke="#a0a0a0" stroke-width="18" stroke-linecap="round" stroke-linejoin="round" /><ellipse cx="524" cy="614" rx="56" ry="22" fill="#727272" /><ellipse cx="492" cy="608" rx="15" ry="11" fill="#505050" /><ellipse cx="556" cy="608" rx="15" ry="11" fill="#545454" /><path d="M450,716 Q538,708 624,716" fill="none" stroke="#333" stroke-width="10" stroke-linecap="round" stroke-linejoin="round" /><polyline points="480,1092 542,1145" fill="none" stroke="#707070" stroke-width="8" stroke-linecap="round" stroke-linejoin="round" /></g></g></svg></div>
<div class="pic" style="left:621.30px;top:709.10px;"><svg viewBox="54 77 1038 1038"><defs><clipPath id="p9_c"><circle cx="573" cy="596" r="517"/></clipPath><filter id="p9_g" x="-40%" y="-40%" width="180%" height="180%"><feGaussianBlur stdDeviation="30"/></filter><filter id="p9_f" x="-40%" y="-40%" width="180%" height="180%"><feGaussianBlur stdDeviation="10"/></filter><filter id="p9_h" x="-40%" y="-40%" width="180%" height="180%"><feGaussianBlur stdDeviation="4.5"/></filter><filter id="p9_m" x="-40%" y="-40%" width="180%" height="180%"><feGaussianBlur stdDeviation="18"/></filter><clipPath id="p9_face"><path d="M335,470 C348.0,416.2 343.7,393.0 370,345 C396.3,297.0 395.0,305.5 440,278 C485.0,250.5 490.0,253.3 550,235 C610.0,216.7 620.0,203.7 680,205 C740.0,206.3 750.0,201.2 790,240 C830.0,278.8 826.2,300.0 840,360 C853.8,420.0 847.5,420.0 845,480 C842.5,540.0 842.5,545.0 830,600 C817.5,655.0 822.5,652.5 795,700 C767.5,747.5 763.8,757.5 720,790 C676.2,822.5 670.0,823.7 620,830 C570.0,836.3 567.5,832.5 520,815 C472.5,797.5 470.0,796.3 430,760 C390.0,723.7 388.0,720.0 360,670 C332.0,620.0 324.3,610.0 318,560 C311.7,510.0 322.0,523.8 335,470Z"/></clipPath><clipPath id="p9_hair"><path d="M268,500 C257.2,467.5 259.0,452.5 262,400 C265.0,347.5 260.5,346.3 280,290 C299.5,233.7 295.0,221.3 340,175 C385.0,128.7 395.0,127.5 460,105 C525.0,82.5 532.5,83.7 600,85 C667.5,86.3 675.0,87.5 730,110 C785.0,132.5 785.5,132.5 820,175 C854.5,217.5 853.0,223.7 868,280 C883.0,336.3 879.0,360.0 880,400 C881.0,440.0 883.3,437.5 872,440 C860.7,442.5 849.3,445.0 835,410 C820.7,375.0 831.3,343.8 815,300 C798.7,256.2 801.3,260.0 770,235 C738.7,210.0 740.0,201.8 690,200 C640.0,198.2 628.8,210.5 570,228 C511.2,245.5 501.3,244.5 455,270 C408.7,295.5 411.8,285.0 385,330 C358.2,375.0 368.0,400.0 348,450 C328.0,500.0 325.0,517.5 305,530 C285.0,542.5 278.8,532.5 268,500Z"/></clipPath></defs><g clip-path="url(#p9_c)"><rect x="0" y="0" width="1300" height="1300" fill="#e2e2e2" /><rect x="800" y="380" width="320" height="520" fill="#ededed" /><text x="815" y="640" font-family="Liberation Sans, sans-serif" font-size="82" fill="#b0b0b0" filter="url(#p9_h)">Народ</text><text x="795" y="728" font-family="Liberation Sans, sans-serif" font-size="82" fill="#b0b0b0" filter="url(#p9_h)">фронт</text><rect x="815" y="795" width="230" height="9" fill="#d2d2d2" /><rect x="850" y="830" width="190" height="9" fill="#d6d6d6" /><g filter="url(#p9_f)"><path d="M140,925 C182.5,845.0 194.0,869.8 240,820 C286.0,770.2 298.0,706.0 324,726 C350.0,746.0 319.0,821.0 344,900 C369.0,979.0 389.0,982.0 424,1042 C459.0,1102.0 572.5,1115.5 484,1140 C395.5,1164.5 156.0,1193.8 70,1140 C-16.0,1086.2 97.5,1005.0 140,925Z" fill="#3a3a3a" /><path d="M744,776 C785.5,746.0 808.5,803.5 870,830 C931.5,856.5 970.0,837.0 990,882 C1010.0,927.0 971.3,945.5 950,1010 C928.7,1074.5 977.0,1107.5 905,1140 C833.0,1172.5 712.3,1187.5 662,1140 C611.7,1092.5 683.5,1041.0 704,950 C724.5,859.0 702.5,806.0 744,776Z" fill="#3c3c3c" /><path d="M330,700 C434.5,665.0 662.0,695.0 760,760 C858.0,825.0 742.0,902.0 722,960 C702.0,1018.0 760.5,976.5 680,992 C599.5,1007.5 484.5,1045.0 400,1022 C315.5,999.0 359.5,980.5 342,900 C324.5,819.5 225.5,735.0 330,700Z" fill="#747474" /><polygon points="395,1014 684,970 674,1078 462,1118" fill="#dfdfdf" /><ellipse cx="292" cy="505" rx="36" ry="100" fill="#7a7a7a" /><ellipse cx="290" cy="515" rx="15" ry="60" fill="#5a5a5a" /><path d="M335,470 C348.0,416.2 343.7,393.0 370,345 C396.3,297.0 395.0,305.5 440,278 C485.0,250.5 490.0,253.3 550,235 C610.0,216.7 620.0,203.7 680,205 C740.0,206.3 750.0,201.2 790,240 C830.0,278.8 826.2,300.0 840,360 C853.8,420.0 847.5,420.0 845,480 C842.5,540.0 842.5,545.0 830,600 C817.5,655.0 822.5,652.5 795,700 C767.5,747.5 763.8,757.5 720,790 C676.2,822.5 670.0,823.7 620,830 C570.0,836.3 567.5,832.5 520,815 C472.5,797.5 470.0,796.3 430,760 C390.0,723.7 388.0,720.0 360,670 C332.0,620.0 324.3,610.0 318,560 C311.7,510.0 322.0,523.8 335,470Z" fill="#939393" /></g><g clip-path="url(#p9_face)"><g filter="url(#p9_m)"><ellipse cx="600" cy="300" rx="170" ry="65" fill="#a4a4a4" /><ellipse cx="440" cy="600" rx="90" ry="130" fill="#a0a0a0" /><ellipse cx="800" cy="540" rx="55" ry="200" fill="#727272" /><ellipse cx="600" cy="800" rx="150" ry="45" fill="#787878" /><ellipse cx="620" cy="480" rx="45" ry="85" fill="#9a9a9a" /><ellipse cx="502" cy="404" rx="85" ry="36" fill="#6a6a6a" /><ellipse cx="734" cy="434" rx="70" ry="32" fill="#646464" /></g></g><g filter="url(#p9_f)"><path d="M268,500 C257.2,467.5 259.0,452.5 262,400 C265.0,347.5 260.5,346.3 280,290 C299.5,233.7 295.0,221.3 340,175 C385.0,128.7 395.0,127.5 460,105 C525.0,82.5 532.5,83.7 600,85 C667.5,86.3 675.0,87.5 730,110 C785.0,132.5 785.5,132.5 820,175 C854.5,217.5 853.0,223.7 868,280 C883.0,336.3 879.0,360.0 880,400 C881.0,440.0 883.3,437.5 872,440 C860.7,442.5 849.3,445.0 835,410 C820.7,375.0 831.3,343.8 815,300 C798.7,256.2 801.3,260.0 770,235 C738.7,210.0 740.0,201.8 690,200 C640.0,198.2 628.8,210.5 570,228 C511.2,245.5 501.3,244.5 455,270 C408.7,295.5 411.8,285.0 385,330 C358.2,375.0 368.0,400.0 348,450 C328.0,500.0 325.0,517.5 305,530 C285.0,542.5 278.8,532.5 268,500Z" fill="#383838" /></g><g clip-path="url(#p9_hair)"><g filter="url(#p9_f)"><polyline points="330,210 470,145 640,130 780,180" fill="none" stroke="#545454" stroke-width="28" stroke-linecap="round" stroke-linejoin="round" /><polyline points="290,460 300,340 350,250" fill="none" stroke="#4a4a4a" stroke-width="22" stroke-linecap="round" stroke-linejoin="round" /><polyline points="440,250 570,200 700,180" fill="none" stroke="#262626" stroke-width="24" stroke-linecap="round" stroke-linejoin="round" /><polyline points="820,220 860,320 868,420" fill="none" stroke="#484848" stroke-width="18" stroke-linecap="round" stroke-linejoin="round" /></g></g><g filter="url(#p9_h)"><ellipse cx="504" cy="406" rx="65" ry="28.6" fill="#5c5c5c" transform="rotate(4 504 406)" /><ellipse cx="504" cy="404" rx="52" ry="15.6" fill="#222" transform="rotate(4 504 404)" /><ellipse cx="504" cy="404" rx="19.76" ry="17.68" fill="#1c1c1c" transform="rotate(4 504 404)" /><ellipse cx="734" cy="436" rx="55" ry="24.2" fill="#585858" transform="rotate(8 734 436)" /><ellipse cx="734" cy="434" rx="44" ry="13.2" fill="#222" transform="rotate(8 734 434)" /><ellipse cx="734" cy="434" rx="16.72" ry="14.96" fill="#1c1c1c" transform="rotate(8 734 434)" /><polyline points="438,338 512,326 588,348" fill="none" stroke="#262626" stroke-width="21" stroke-linecap="round" stroke-linejoin="round" /><polyline points="678,366 742,374 798,404" fill="none" stroke="#282828" stroke-width="19" stroke-linecap="round" stroke-linejoin="round" /><polyline points="652,420 664,530" fill="none" stroke="#7e7e7e" stroke-width="20" stroke-linecap="round" stroke-linejoin="round" /><ellipse cx="624" cy="564" rx="64" ry="22" fill="#505050" /><ellipse cx="590" cy="558" rx="16" ry="12" fill="#333" /><ellipse cx="660" cy="562" rx="16" ry="12" fill="#383838" /><path d="M518,664 Q610,652 694,670" fill="none" stroke="#333" stroke-width="12" stroke-linecap="round" stroke-linejoin="round" /><path d="M540,688 Q610,704 680,690" fill="none" stroke="#767676" stroke-width="12" stroke-linecap="round" stroke-linejoin="round" /><polyline points="405,1037 682,996" fill="none" stroke="#3e3e3e" stroke-width="15" stroke-linecap="round" stroke-linejoin="round" /><polyline points="440,1078 674,1042" fill="none" stroke="#404040" stroke-width="15" stroke-linecap="round" stroke-linejoin="round" /><polyline points="470,1112 662,1084" fill="none" stroke="#505050" stroke-width="12" stroke-linecap="round" stroke-linejoin="round" /></g></g></svg></div>
<div class="pic" style="left:621.70px;top:863.30px;"><svg viewBox="621.70 863.30 121 121"><circle cx="682.20" cy="923.80" r="60.3" fill="#dadada"/><circle cx="680.80" cy="923.20" r="42.20" fill="#f28e80"/><path d="M645.33,900.34 A42.20,42.20 0 1 1 639.35,915.29" fill="none" stroke="#1d1d1b" stroke-width="1.5"/><circle cx="642.50" cy="907.70" r="2.3" fill="#1d1d1b"/></svg></div>
<div class="pic" style="left:621.70px;top:1016.70px;"><svg viewBox="621.70 1016.70 121 121"><circle cx="682.20" cy="1077.20" r="60.3" fill="#dadada"/><circle cx="680.80" cy="1077.20" r="42.20" fill="#f28e80"/><path d="M645.33,1054.34 A42.20,42.20 0 1 1 639.35,1069.29" fill="none" stroke="#1d1d1b" stroke-width="1.5"/><circle cx="642.50" cy="1061.70" r="2.3" fill="#1d1d1b"/><path d="M665.80,1062.50 L695.80,1091.90 M695.80,1062.50 L665.80,1091.90" fill="none" stroke="#1d1d1b" stroke-width="1.5"/></svg></div>
<div class="t" id="t0" style="left:66.34px;top:87.99px;font-size:38.40px;font-weight:700;color:#000;transform:scaleX(0.9684);-webkit-text-stroke:0.6px #000;">Результати</div>
<div class="t" id="t1" style="left:282.03px;top:87.99px;font-size:38.40px;font-weight:700;color:#000;transform:scaleX(0.9896);-webkit-text-stroke:0.6px #000;">паралельного</div>
<div class="t" id="t2" style="left:559.55px;top:87.99px;font-size:38.40px;font-weight:700;color:#000;transform:scaleX(1.0515);-webkit-text-stroke:0.6px #000;">підрахунку</div>
<div class="t" id="t3" style="left:794.58px;top:87.99px;font-size:38.40px;font-weight:700;color:#000;transform:scaleX(0.9059);-webkit-text-stroke:0.6px #000;">голосів</div>
<div class="t" id="t4" style="left:197.78px;top:260.53px;font-size:22.00px;font-weight:700;color:#1a1a1a;transform:scaleX(1.0154);-webkit-text-stroke:0.2px #fff;">ВОЛОДИМИР</div>
<div class="t" id="t5" style="left:352.05px;top:260.53px;font-size:22.00px;font-weight:700;color:#1a1a1a;transform:scaleX(0.9503);-webkit-text-stroke:0.2px #fff;">ЗЕЛЕНСЬКИЙ</div>
<div class="t" id="t6" style="left:317.52px;top:311.43px;font-size:26.90px;font-weight:700;color:#1a1a1a;transform:scaleX(0.9797);">30,1%</div>
<div class="t" id="t7" style="left:398.23px;top:364.92px;font-size:21.00px;font-weight:400;color:#6c6c6c;transform:scaleX(1.0734);">*Похибка +/- 0,7%</div>
<div class="t" id="t8" style="left:197.85px;top:413.03px;font-size:22.00px;font-weight:700;color:#1a1a1a;transform:scaleX(0.9007);-webkit-text-stroke:0.2px #fff;">ПЕТРО</div>
<div class="t" id="t9" style="left:272.76px;top:413.03px;font-size:22.00px;font-weight:700;color:#1a1a1a;transform:scaleX(0.9880);-webkit-text-stroke:0.2px #fff;">ПОРОШЕНКО</div>
<div class="t" id="t10" style="left:261.81px;top:464.68px;font-size:26.90px;font-weight:700;color:#1a1a1a;transform:scaleX(0.9692);">15,7%</div>
<div class="t" id="t11" style="left:398.23px;top:517.92px;font-size:21.00px;font-weight:400;color:#6c6c6c;transform:scaleX(1.0734);">*Похибка +/- 0,7%</div>
<div class="t" id="t12" style="left:197.77px;top:561.78px;font-size:22.00px;font-weight:700;color:#1a1a1a;transform:scaleX(0.9781);-webkit-text-stroke:0.2px #fff;">ЮЛІЯ</div>
<div class="t" id="t13" style="left:262.50px;top:561.78px;font-size:22.00px;font-weight:700;color:#1a1a1a;-webkit-text-stroke:0.2px #fff;">ТИМОШЕНКО</div>
<div class="t" id="t14" style="left:253.56px;top:611.68px;font-size:26.90px;font-weight:700;color:#1a1a1a;transform:scaleX(0.9692);">13,3%</div>
<div class="t" id="t15" style="left:398.23px;top:667.92px;font-size:21.00px;font-weight:400;color:#6c6c6c;transform:scaleX(1.0734);">*Похибка +/- 0,4%</div>
<div class="t" id="t16" style="left:198.02px;top:718.53px;font-size:22.00px;font-weight:700;color:#1a1a1a;transform:scaleX(0.9825);-webkit-text-stroke:0.2px #fff;">ЮРІЙ</div>
<div class="t" id="t17" style="left:262.99px;top:718.53px;font-size:22.00px;font-weight:700;color:#1a1a1a;transform:scaleX(1.0130);-webkit-text-stroke:0.2px #fff;">БОЙКО</div>
<div class="t" id="t18" style="left:245.20px;top:765.18px;font-size:26.90px;font-weight:700;color:#1a1a1a;transform:scaleX(0.8993);">11,5%</div>
<div class="t" id="t19" style="left:398.23px;top:821.92px;font-size:21.00px;font-weight:400;color:#6c6c6c;transform:scaleX(1.0734);">*Похибка +/- 0,7%</div>
<div class="t" id="t20" style="left:195.58px;top:863.78px;font-size:22.00px;font-weight:700;color:#1a1a1a;transform:scaleX(1.0171);-webkit-text-stroke:0.2px #fff;">АНАТОЛІЙ</div>
<div class="t" id="t21" style="left:318.45px;top:863.78px;font-size:22.00px;font-weight:700;color:#1a1a1a;transform:scaleX(0.9483);-webkit-text-stroke:0.2px #fff;">ГРИЦЕНКО</div>
<div class="t" id="t22" style="left:224.00px;top:915.93px;font-size:26.90px;font-weight:700;color:#1a1a1a;">6,8%</div>
<div class="t" id="t23" style="left:398.23px;top:975.22px;font-size:21.00px;font-weight:400;color:#6c6c6c;transform:scaleX(1.0734);">*Похибка +/- 0,4%</div>
<div class="t" id="t24" style="left:752.79px;top:260.53px;font-size:22.00px;font-weight:700;color:#1a1a1a;transform:scaleX(0.9125);-webkit-text-stroke:0.2px #fff;">ІГОР</div>
<div class="t" id="t25" style="left:803.69px;top:260.53px;font-size:22.00px;font-weight:700;color:#1a1a1a;transform:scaleX(1.0061);-webkit-text-stroke:0.2px #fff;">СМЕШКО</div>
<div class="t" id="t26" style="left:776.01px;top:310.93px;font-size:26.90px;font-weight:700;color:#1a1a1a;transform:scaleX(0.9875);">5,9%</div>
<div class="t" id="t27" style="left:946.33px;top:364.92px;font-size:21.00px;font-weight:400;color:#6c6c6c;transform:scaleX(1.0746);">*Похибка +/- 0,3%</div>
<div class="t" id="t28" style="left:751.68px;top:413.03px;font-size:22.00px;font-weight:700;color:#1a1a1a;transform:scaleX(0.9207);-webkit-text-stroke:0.2px #fff;">ОЛЕГ</div>
<div class="t" id="t29" style="left:813.00px;top:413.03px;font-size:22.00px;font-weight:700;color:#1a1a1a;transform:scaleX(0.9928);-webkit-text-stroke:0.2px #fff;">ЛЯШКО</div>
<div class="t" id="t30" style="left:775.26px;top:464.68px;font-size:26.90px;font-weight:700;color:#1a1a1a;transform:scaleX(0.9875);">5,5%</div>
<div class="t" id="t31" style="left:946.33px;top:517.92px;font-size:21.00px;font-weight:400;color:#6c6c6c;transform:scaleX(1.0746);">*Похибка +/- 0,3%</div>
<div class="t" id="t32" style="left:753.51px;top:561.78px;font-size:22.00px;font-weight:700;color:#1a1a1a;transform:scaleX(0.9852);-webkit-text-stroke:0.2px #fff;">ОЛЕКСАНДР</div>
<div class="t" id="t33" style="left:895.29px;top:561.78px;font-size:22.00px;font-weight:700;color:#1a1a1a;transform:scaleX(0.9643);-webkit-text-stroke:0.2px #fff;">ВІЛКУЛ</div>
<div class="t" id="t34" style="left:771.25px;top:611.68px;font-size:26.90px;font-weight:700;color:#1a1a1a;transform:scaleX(0.9303);">4,1%</div>
<div class="t" id="t35" style="left:946.33px;top:667.92px;font-size:21.00px;font-weight:400;color:#6c6c6c;transform:scaleX(1.0746);">*Похибка +/- 0,3%</div>
<div class="t" id="t36" style="left:752.41px;top:718.53px;font-size:22.00px;font-weight:700;color:#1a1a1a;transform:scaleX(0.9930);-webkit-text-stroke:0.2px #fff;">ЮРІЙ</div>
<div class="t" id="t37" style="left:818.00px;top:718.53px;font-size:22.00px;font-weight:700;color:#1a1a1a;transform:scaleX(1.0014);-webkit-text-stroke:0.2px #fff;">ТИМОШЕНКО</div>
<div class="t" id="t38" style="left:756.00px;top:765.18px;font-size:26.90px;font-weight:700;color:#1a1a1a;">0,6%</div>
<div class="t" id="t39" style="left:949.44px;top:821.92px;font-size:21.00px;font-weight:400;color:#6c6c6c;transform:scaleX(1.0566);">*Похибка +/- 0,1%</div>
<div class="t" id="t40" style="left:753.01px;top:864.08px;font-size:22.00px;font-weight:700;color:#1a1a1a;transform:scaleX(0.9890);-webkit-text-stroke:0.2px #fff;">ГОЛОСИ</div>
<div class="t" id="t41" style="left:850.79px;top:864.08px;font-size:22.00px;font-weight:700;color:#1a1a1a;transform:scaleX(0.9143);-webkit-text-stroke:0.2px #fff;">ЗА</div>
<div class="t" id="t42" style="left:885.67px;top:864.08px;font-size:22.00px;font-weight:700;color:#1a1a1a;transform:scaleX(1.0274);-webkit-text-stroke:0.2px #fff;">ІНШИХ</div>
<div class="t" id="t43" style="left:969.02px;top:864.08px;font-size:22.00px;font-weight:700;color:#1a1a1a;transform:scaleX(0.9766);-webkit-text-stroke:0.2px #fff;">КАНДИДАТІВ</div>
<div class="t" id="t44" style="left:776.76px;top:916.13px;font-size:26.90px;font-weight:700;color:#1a1a1a;transform:scaleX(0.9433);">5,1%</div>
<div class="t" id="t45" style="left:946.33px;top:974.92px;font-size:21.00px;font-weight:400;color:#6c6c6c;transform:scaleX(1.0746);">*Похибка +/- 0,4%</div>
<div class="t" id="t46" style="left:753.06px;top:1016.78px;font-size:22.00px;font-weight:700;color:#1a1a1a;transform:scaleX(0.9407);-webkit-text-stroke:0.2px #fff;">КІЛЬКІСТЬ</div>
<div class="t" id="t47" style="left:869.03px;top:1016.78px;font-size:22.00px;font-weight:700;color:#1a1a1a;transform:scaleX(0.9690);-webkit-text-stroke:0.2px #fff;">НЕДІЙСНИХ</div>
<div class="t" id="t48" style="left:1003.81px;top:1016.78px;font-size:22.00px;font-weight:700;color:#1a1a1a;transform:scaleX(0.8864);-webkit-text-stroke:0.2px #fff;">БЮЛЕТЕНІВ</div>
<div class="t" id="t49" style="left:758.89px;top:1069.13px;font-size:26.90px;font-weight:700;color:#1a1a1a;transform:scaleX(0.9034);">1,3%</div>
<div class="t" id="t50" style="left:949.44px;top:1123.92px;font-size:21.00px;font-weight:400;color:#6c6c6c;transform:scaleX(1.0566);">*Похибка +/- 0,1%</div>
<div class="t" id="t51" style="left:982.49px;top:65.11px;font-size:27.40px;font-weight:700;color:#fff;transform:scaleX(1.1104);-webkit-text-stroke:0.5px #fff;">ОПОРА</div>
<div class="t" id="t52" style="left:1040.00px;top:116.33px;font-size:20.40px;font-weight:400;color:#1a1a1a;letter-spacing:1.800px;-webkit-text-stroke:0.45px #1a1a1a;">ВИБОРИ</div>
<div class="t" id="t53" style="left:1041.00px;top:143.13px;font-size:20.40px;font-weight:400;color:#1a1a1a;letter-spacing:1.667px;-webkit-text-stroke:0.45px #1a1a1a;">2019</div>
</body>
</html>
